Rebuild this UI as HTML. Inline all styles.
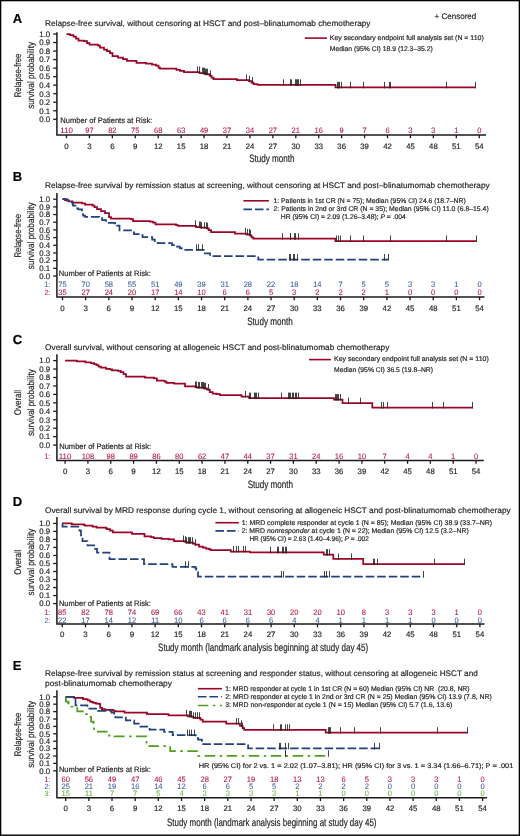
<!DOCTYPE html>
<html><head><meta charset="utf-8"><title>Figure</title>
<style>
html,body{margin:0;padding:0;background:#fff;}
body{width:520px;height:836px;overflow:hidden;}
svg{display:block;will-change:transform;}
svg text{font-family:"Liberation Sans", sans-serif;text-rendering:geometricPrecision;}
</style></head>
<body>
<svg width="520" height="836" viewBox="0 0 520 836">
<rect x="0" y="0" width="520" height="836" fill="#fff"/>
<text x="12.80" y="23.20" font-size="13" fill="#000" stroke="#000" stroke-width="0.18" font-weight="bold">A</text>
<text x="45.00" y="26.00" font-size="8.1" fill="#231f20" stroke="#231f20" stroke-width="0.18" textLength="325.50" lengthAdjust="spacingAndGlyphs">Relapse-free survival, without censoring at HSCT and post&#8211;blinatumomab chemotherapy</text>
<path d="M56.9 32.3 V135 H486" fill="none" stroke="#1a1a1a" stroke-width="1.5"/>
<line x1="53.2" y1="119.30" x2="56.9" y2="119.30" stroke="#1a1a1a" stroke-width="1.3"/>
<text x="50.20" y="122.10" font-size="8.0" fill="#231f20" stroke="#231f20" stroke-width="0.18" text-anchor="end" textLength="10.90" lengthAdjust="spacingAndGlyphs">0.0</text>
<line x1="53.2" y1="110.77" x2="56.9" y2="110.77" stroke="#1a1a1a" stroke-width="1.3"/>
<text x="50.20" y="113.57" font-size="8.0" fill="#231f20" stroke="#231f20" stroke-width="0.18" text-anchor="end" textLength="10.90" lengthAdjust="spacingAndGlyphs">0.1</text>
<line x1="53.2" y1="102.24" x2="56.9" y2="102.24" stroke="#1a1a1a" stroke-width="1.3"/>
<text x="50.20" y="105.04" font-size="8.0" fill="#231f20" stroke="#231f20" stroke-width="0.18" text-anchor="end" textLength="10.90" lengthAdjust="spacingAndGlyphs">0.2</text>
<line x1="53.2" y1="93.71" x2="56.9" y2="93.71" stroke="#1a1a1a" stroke-width="1.3"/>
<text x="50.20" y="96.51" font-size="8.0" fill="#231f20" stroke="#231f20" stroke-width="0.18" text-anchor="end" textLength="10.90" lengthAdjust="spacingAndGlyphs">0.3</text>
<line x1="53.2" y1="85.18" x2="56.9" y2="85.18" stroke="#1a1a1a" stroke-width="1.3"/>
<text x="50.20" y="87.98" font-size="8.0" fill="#231f20" stroke="#231f20" stroke-width="0.18" text-anchor="end" textLength="10.90" lengthAdjust="spacingAndGlyphs">0.4</text>
<line x1="53.2" y1="76.65" x2="56.9" y2="76.65" stroke="#1a1a1a" stroke-width="1.3"/>
<text x="50.20" y="79.45" font-size="8.0" fill="#231f20" stroke="#231f20" stroke-width="0.18" text-anchor="end" textLength="10.90" lengthAdjust="spacingAndGlyphs">0.5</text>
<line x1="53.2" y1="68.12" x2="56.9" y2="68.12" stroke="#1a1a1a" stroke-width="1.3"/>
<text x="50.20" y="70.92" font-size="8.0" fill="#231f20" stroke="#231f20" stroke-width="0.18" text-anchor="end" textLength="10.90" lengthAdjust="spacingAndGlyphs">0.6</text>
<line x1="53.2" y1="59.59" x2="56.9" y2="59.59" stroke="#1a1a1a" stroke-width="1.3"/>
<text x="50.20" y="62.39" font-size="8.0" fill="#231f20" stroke="#231f20" stroke-width="0.18" text-anchor="end" textLength="10.90" lengthAdjust="spacingAndGlyphs">0.7</text>
<line x1="53.2" y1="51.06" x2="56.9" y2="51.06" stroke="#1a1a1a" stroke-width="1.3"/>
<text x="50.20" y="53.86" font-size="8.0" fill="#231f20" stroke="#231f20" stroke-width="0.18" text-anchor="end" textLength="10.90" lengthAdjust="spacingAndGlyphs">0.8</text>
<line x1="53.2" y1="42.53" x2="56.9" y2="42.53" stroke="#1a1a1a" stroke-width="1.3"/>
<text x="50.20" y="45.33" font-size="8.0" fill="#231f20" stroke="#231f20" stroke-width="0.18" text-anchor="end" textLength="10.90" lengthAdjust="spacingAndGlyphs">0.9</text>
<line x1="53.2" y1="34.00" x2="56.9" y2="34.00" stroke="#1a1a1a" stroke-width="1.3"/>
<text x="50.20" y="36.80" font-size="8.0" fill="#231f20" stroke="#231f20" stroke-width="0.18" text-anchor="end" textLength="10.90" lengthAdjust="spacingAndGlyphs">1.0</text>
<line x1="66.50" y1="135" x2="66.50" y2="138.20" stroke="#1a1a1a" stroke-width="1.3"/>
<text x="66.50" y="148.80" font-size="7.9" fill="#231f20" stroke="#231f20" stroke-width="0.18" text-anchor="middle" textLength="4.40" lengthAdjust="spacingAndGlyphs">0</text>
<line x1="89.43" y1="135" x2="89.43" y2="138.20" stroke="#1a1a1a" stroke-width="1.3"/>
<text x="89.43" y="148.80" font-size="7.9" fill="#231f20" stroke="#231f20" stroke-width="0.18" text-anchor="middle" textLength="4.40" lengthAdjust="spacingAndGlyphs">3</text>
<line x1="112.36" y1="135" x2="112.36" y2="138.20" stroke="#1a1a1a" stroke-width="1.3"/>
<text x="112.36" y="148.80" font-size="7.9" fill="#231f20" stroke="#231f20" stroke-width="0.18" text-anchor="middle" textLength="4.40" lengthAdjust="spacingAndGlyphs">6</text>
<line x1="135.29" y1="135" x2="135.29" y2="138.20" stroke="#1a1a1a" stroke-width="1.3"/>
<text x="135.29" y="148.80" font-size="7.9" fill="#231f20" stroke="#231f20" stroke-width="0.18" text-anchor="middle" textLength="4.40" lengthAdjust="spacingAndGlyphs">9</text>
<line x1="158.22" y1="135" x2="158.22" y2="138.20" stroke="#1a1a1a" stroke-width="1.3"/>
<text x="158.22" y="148.80" font-size="7.9" fill="#231f20" stroke="#231f20" stroke-width="0.18" text-anchor="middle" textLength="8.60" lengthAdjust="spacingAndGlyphs">12</text>
<line x1="181.15" y1="135" x2="181.15" y2="138.20" stroke="#1a1a1a" stroke-width="1.3"/>
<text x="181.15" y="148.80" font-size="7.9" fill="#231f20" stroke="#231f20" stroke-width="0.18" text-anchor="middle" textLength="8.60" lengthAdjust="spacingAndGlyphs">15</text>
<line x1="204.08" y1="135" x2="204.08" y2="138.20" stroke="#1a1a1a" stroke-width="1.3"/>
<text x="204.08" y="148.80" font-size="7.9" fill="#231f20" stroke="#231f20" stroke-width="0.18" text-anchor="middle" textLength="8.60" lengthAdjust="spacingAndGlyphs">18</text>
<line x1="227.01" y1="135" x2="227.01" y2="138.20" stroke="#1a1a1a" stroke-width="1.3"/>
<text x="227.01" y="148.80" font-size="7.9" fill="#231f20" stroke="#231f20" stroke-width="0.18" text-anchor="middle" textLength="8.60" lengthAdjust="spacingAndGlyphs">21</text>
<line x1="249.94" y1="135" x2="249.94" y2="138.20" stroke="#1a1a1a" stroke-width="1.3"/>
<text x="249.94" y="148.80" font-size="7.9" fill="#231f20" stroke="#231f20" stroke-width="0.18" text-anchor="middle" textLength="8.60" lengthAdjust="spacingAndGlyphs">24</text>
<line x1="272.87" y1="135" x2="272.87" y2="138.20" stroke="#1a1a1a" stroke-width="1.3"/>
<text x="272.87" y="148.80" font-size="7.9" fill="#231f20" stroke="#231f20" stroke-width="0.18" text-anchor="middle" textLength="8.60" lengthAdjust="spacingAndGlyphs">27</text>
<line x1="295.80" y1="135" x2="295.80" y2="138.20" stroke="#1a1a1a" stroke-width="1.3"/>
<text x="295.80" y="148.80" font-size="7.9" fill="#231f20" stroke="#231f20" stroke-width="0.18" text-anchor="middle" textLength="8.60" lengthAdjust="spacingAndGlyphs">30</text>
<line x1="318.73" y1="135" x2="318.73" y2="138.20" stroke="#1a1a1a" stroke-width="1.3"/>
<text x="318.73" y="148.80" font-size="7.9" fill="#231f20" stroke="#231f20" stroke-width="0.18" text-anchor="middle" textLength="8.60" lengthAdjust="spacingAndGlyphs">33</text>
<line x1="341.66" y1="135" x2="341.66" y2="138.20" stroke="#1a1a1a" stroke-width="1.3"/>
<text x="341.66" y="148.80" font-size="7.9" fill="#231f20" stroke="#231f20" stroke-width="0.18" text-anchor="middle" textLength="8.60" lengthAdjust="spacingAndGlyphs">36</text>
<line x1="364.59" y1="135" x2="364.59" y2="138.20" stroke="#1a1a1a" stroke-width="1.3"/>
<text x="364.59" y="148.80" font-size="7.9" fill="#231f20" stroke="#231f20" stroke-width="0.18" text-anchor="middle" textLength="8.60" lengthAdjust="spacingAndGlyphs">39</text>
<line x1="387.52" y1="135" x2="387.52" y2="138.20" stroke="#1a1a1a" stroke-width="1.3"/>
<text x="387.52" y="148.80" font-size="7.9" fill="#231f20" stroke="#231f20" stroke-width="0.18" text-anchor="middle" textLength="8.60" lengthAdjust="spacingAndGlyphs">42</text>
<line x1="410.45" y1="135" x2="410.45" y2="138.20" stroke="#1a1a1a" stroke-width="1.3"/>
<text x="410.45" y="148.80" font-size="7.9" fill="#231f20" stroke="#231f20" stroke-width="0.18" text-anchor="middle" textLength="8.60" lengthAdjust="spacingAndGlyphs">45</text>
<line x1="433.38" y1="135" x2="433.38" y2="138.20" stroke="#1a1a1a" stroke-width="1.3"/>
<text x="433.38" y="148.80" font-size="7.9" fill="#231f20" stroke="#231f20" stroke-width="0.18" text-anchor="middle" textLength="8.60" lengthAdjust="spacingAndGlyphs">48</text>
<line x1="456.31" y1="135" x2="456.31" y2="138.20" stroke="#1a1a1a" stroke-width="1.3"/>
<text x="456.31" y="148.80" font-size="7.9" fill="#231f20" stroke="#231f20" stroke-width="0.18" text-anchor="middle" textLength="8.60" lengthAdjust="spacingAndGlyphs">51</text>
<line x1="479.24" y1="135" x2="479.24" y2="138.20" stroke="#1a1a1a" stroke-width="1.3"/>
<text x="479.24" y="148.80" font-size="7.9" fill="#231f20" stroke="#231f20" stroke-width="0.18" text-anchor="middle" textLength="8.60" lengthAdjust="spacingAndGlyphs">54</text>
<text x="60.30" y="122.60" font-size="7.8" fill="#231f20" stroke="#231f20" stroke-width="0.18" textLength="92.00" lengthAdjust="spacingAndGlyphs">Number of Patients at Risk:</text>
<text x="66.50" y="132.80" font-size="7.9" fill="#b3183f" stroke="#b3183f" stroke-width="0.08" text-anchor="middle" textLength="12.60" lengthAdjust="spacingAndGlyphs">110</text>
<text x="89.43" y="132.80" font-size="7.9" fill="#b3183f" stroke="#b3183f" stroke-width="0.08" text-anchor="middle" textLength="8.40" lengthAdjust="spacingAndGlyphs">97</text>
<text x="112.36" y="132.80" font-size="7.9" fill="#b3183f" stroke="#b3183f" stroke-width="0.08" text-anchor="middle" textLength="8.40" lengthAdjust="spacingAndGlyphs">82</text>
<text x="135.29" y="132.80" font-size="7.9" fill="#b3183f" stroke="#b3183f" stroke-width="0.08" text-anchor="middle" textLength="8.40" lengthAdjust="spacingAndGlyphs">75</text>
<text x="158.22" y="132.80" font-size="7.9" fill="#b3183f" stroke="#b3183f" stroke-width="0.08" text-anchor="middle" textLength="8.40" lengthAdjust="spacingAndGlyphs">68</text>
<text x="181.15" y="132.80" font-size="7.9" fill="#b3183f" stroke="#b3183f" stroke-width="0.08" text-anchor="middle" textLength="8.40" lengthAdjust="spacingAndGlyphs">63</text>
<text x="204.08" y="132.80" font-size="7.9" fill="#b3183f" stroke="#b3183f" stroke-width="0.08" text-anchor="middle" textLength="8.40" lengthAdjust="spacingAndGlyphs">49</text>
<text x="227.01" y="132.80" font-size="7.9" fill="#b3183f" stroke="#b3183f" stroke-width="0.08" text-anchor="middle" textLength="8.40" lengthAdjust="spacingAndGlyphs">37</text>
<text x="249.94" y="132.80" font-size="7.9" fill="#b3183f" stroke="#b3183f" stroke-width="0.08" text-anchor="middle" textLength="8.40" lengthAdjust="spacingAndGlyphs">34</text>
<text x="272.87" y="132.80" font-size="7.9" fill="#b3183f" stroke="#b3183f" stroke-width="0.08" text-anchor="middle" textLength="8.40" lengthAdjust="spacingAndGlyphs">27</text>
<text x="295.80" y="132.80" font-size="7.9" fill="#b3183f" stroke="#b3183f" stroke-width="0.08" text-anchor="middle" textLength="8.40" lengthAdjust="spacingAndGlyphs">21</text>
<text x="318.73" y="132.80" font-size="7.9" fill="#b3183f" stroke="#b3183f" stroke-width="0.08" text-anchor="middle" textLength="8.40" lengthAdjust="spacingAndGlyphs">16</text>
<text x="341.66" y="132.80" font-size="7.9" fill="#b3183f" stroke="#b3183f" stroke-width="0.08" text-anchor="middle" textLength="4.20" lengthAdjust="spacingAndGlyphs">9</text>
<text x="364.59" y="132.80" font-size="7.9" fill="#b3183f" stroke="#b3183f" stroke-width="0.08" text-anchor="middle" textLength="4.20" lengthAdjust="spacingAndGlyphs">7</text>
<text x="387.52" y="132.80" font-size="7.9" fill="#b3183f" stroke="#b3183f" stroke-width="0.08" text-anchor="middle" textLength="4.20" lengthAdjust="spacingAndGlyphs">6</text>
<text x="410.45" y="132.80" font-size="7.9" fill="#b3183f" stroke="#b3183f" stroke-width="0.08" text-anchor="middle" textLength="4.20" lengthAdjust="spacingAndGlyphs">3</text>
<text x="433.38" y="132.80" font-size="7.9" fill="#b3183f" stroke="#b3183f" stroke-width="0.08" text-anchor="middle" textLength="4.20" lengthAdjust="spacingAndGlyphs">3</text>
<text x="456.31" y="132.80" font-size="7.9" fill="#b3183f" stroke="#b3183f" stroke-width="0.08" text-anchor="middle" textLength="4.20" lengthAdjust="spacingAndGlyphs">1</text>
<text x="479.24" y="132.80" font-size="7.9" fill="#b3183f" stroke="#b3183f" stroke-width="0.08" text-anchor="middle" textLength="4.20" lengthAdjust="spacingAndGlyphs">0</text>
<text transform="translate(20.90,75.45) rotate(-90)" x="0" y="0" font-size="9.6" fill="#231f20" stroke="#231f20" stroke-width="0.18" text-anchor="middle" textLength="43.6" lengthAdjust="spacingAndGlyphs">Relapse-free</text>
<text transform="translate(33.60,75.45) rotate(-90)" x="0" y="0" font-size="9.6" fill="#231f20" stroke="#231f20" stroke-width="0.18" text-anchor="middle" textLength="66.8" lengthAdjust="spacingAndGlyphs">survival probability</text>
<text x="249.20" y="162.30" font-size="10.6" fill="#231f20" stroke="#231f20" stroke-width="0.18" textLength="45.40" lengthAdjust="spacingAndGlyphs">Study month</text>
<line x1="304.8" y1="38.1" x2="326.9" y2="38.1" stroke="#9c0626" stroke-width="1.6"/>
<text x="329.80" y="40.10" font-size="6.8" fill="#231f20" stroke="#231f20" stroke-width="0.18" textLength="153.90" lengthAdjust="spacingAndGlyphs">Key secondary endpoint full analysis set (N = 110)</text>
<text x="329.80" y="50.60" font-size="6.8" fill="#231f20" stroke="#231f20" stroke-width="0.18" textLength="102.90" lengthAdjust="spacingAndGlyphs">Median (95% CI) 18.9 (12.3&#8211;35.2)</text>
<path d="M66.50 34.00H70.00V35.00H73.50V36.50H76.00V38.50H78.50V40.50H84.00V41.20H87.00V43.00H89.50V44.50H98.00V45.50H100.00V47.50H104.00V49.50H107.00V51.00H110.00V53.00H112.50V56.00H118.00V57.50H123.00V59.00H127.00V60.80H136.50V62.80H146.00V63.60H152.00V64.50H156.00V65.50H158.50V67.50H160.00V68.60H176.50V69.80H180.00V70.80H184.00V72.00H199.50V73.20H205.00V74.20H209.50V75.70H211.50V77.50H213.50V79.00H237.00V80.00H249.00V81.20H251.50V82.50H253.50V84.00H257.50V84.80H335.50V87.40H475.50" fill="none" stroke="#9c0626" stroke-width="1.75"/>
<line x1="197.50" y1="66.50" x2="197.50" y2="73.00" stroke="#222" stroke-width="0.85"/>
<line x1="199.50" y1="66.50" x2="199.50" y2="73.00" stroke="#222" stroke-width="0.85"/>
<line x1="202.50" y1="67.70" x2="202.50" y2="74.20" stroke="#222" stroke-width="0.85"/>
<line x1="203.50" y1="67.70" x2="203.50" y2="74.20" stroke="#222" stroke-width="0.85"/>
<line x1="204.50" y1="67.70" x2="204.50" y2="74.20" stroke="#222" stroke-width="0.85"/>
<line x1="205.50" y1="68.70" x2="205.50" y2="75.20" stroke="#222" stroke-width="0.85"/>
<line x1="206.50" y1="68.70" x2="206.50" y2="75.20" stroke="#222" stroke-width="0.85"/>
<line x1="207.50" y1="68.70" x2="207.50" y2="75.20" stroke="#222" stroke-width="0.85"/>
<line x1="210.50" y1="70.20" x2="210.50" y2="76.70" stroke="#222" stroke-width="0.85"/>
<line x1="246.50" y1="74.50" x2="246.50" y2="81.00" stroke="#222" stroke-width="0.85"/>
<line x1="249.50" y1="75.70" x2="249.50" y2="82.20" stroke="#222" stroke-width="0.85"/>
<line x1="252.50" y1="77.00" x2="252.50" y2="83.50" stroke="#222" stroke-width="0.85"/>
<line x1="283.50" y1="79.30" x2="283.50" y2="85.80" stroke="#222" stroke-width="0.85"/>
<line x1="290.50" y1="79.30" x2="290.50" y2="85.80" stroke="#222" stroke-width="0.85"/>
<line x1="291.50" y1="79.30" x2="291.50" y2="85.80" stroke="#222" stroke-width="0.85"/>
<line x1="295.50" y1="79.30" x2="295.50" y2="85.80" stroke="#222" stroke-width="0.85"/>
<line x1="296.50" y1="79.30" x2="296.50" y2="85.80" stroke="#222" stroke-width="0.85"/>
<line x1="297.50" y1="79.30" x2="297.50" y2="85.80" stroke="#222" stroke-width="0.85"/>
<line x1="298.50" y1="79.30" x2="298.50" y2="85.80" stroke="#222" stroke-width="0.85"/>
<line x1="300.50" y1="79.30" x2="300.50" y2="85.80" stroke="#222" stroke-width="0.85"/>
<line x1="337.50" y1="81.90" x2="337.50" y2="88.40" stroke="#222" stroke-width="0.85"/>
<line x1="338.50" y1="81.90" x2="338.50" y2="88.40" stroke="#222" stroke-width="0.85"/>
<line x1="339.50" y1="81.90" x2="339.50" y2="88.40" stroke="#222" stroke-width="0.85"/>
<line x1="341.50" y1="81.90" x2="341.50" y2="88.40" stroke="#222" stroke-width="0.85"/>
<line x1="350.50" y1="81.90" x2="350.50" y2="88.40" stroke="#222" stroke-width="0.85"/>
<line x1="363.50" y1="81.90" x2="363.50" y2="88.40" stroke="#222" stroke-width="0.85"/>
<line x1="384.50" y1="81.90" x2="384.50" y2="88.40" stroke="#222" stroke-width="0.85"/>
<line x1="389.50" y1="81.90" x2="389.50" y2="88.40" stroke="#222" stroke-width="0.85"/>
<line x1="390.50" y1="81.90" x2="390.50" y2="88.40" stroke="#222" stroke-width="0.85"/>
<line x1="446.50" y1="81.90" x2="446.50" y2="88.40" stroke="#222" stroke-width="0.85"/>
<line x1="475.50" y1="81.90" x2="475.50" y2="88.40" stroke="#222" stroke-width="0.85"/>
<text x="12.80" y="180.80" font-size="13" fill="#000" stroke="#000" stroke-width="0.18" font-weight="bold">B</text>
<text x="45.00" y="187.60" font-size="8.1" fill="#231f20" stroke="#231f20" stroke-width="0.18" textLength="444.60" lengthAdjust="spacingAndGlyphs">Relapse-free survival by remission status at screening, without censoring at HSCT and post&#8211;blinatumomab chemotherapy</text>
<path d="M56.9 193 V297 H484.5" fill="none" stroke="#1a1a1a" stroke-width="1.5"/>
<line x1="53.2" y1="276.00" x2="56.9" y2="276.00" stroke="#1a1a1a" stroke-width="1.3"/>
<text x="50.20" y="278.80" font-size="8.0" fill="#231f20" stroke="#231f20" stroke-width="0.18" text-anchor="end" textLength="10.90" lengthAdjust="spacingAndGlyphs">0.0</text>
<line x1="53.2" y1="268.32" x2="56.9" y2="268.32" stroke="#1a1a1a" stroke-width="1.3"/>
<text x="50.20" y="271.12" font-size="8.0" fill="#231f20" stroke="#231f20" stroke-width="0.18" text-anchor="end" textLength="10.90" lengthAdjust="spacingAndGlyphs">0.1</text>
<line x1="53.2" y1="260.64" x2="56.9" y2="260.64" stroke="#1a1a1a" stroke-width="1.3"/>
<text x="50.20" y="263.44" font-size="8.0" fill="#231f20" stroke="#231f20" stroke-width="0.18" text-anchor="end" textLength="10.90" lengthAdjust="spacingAndGlyphs">0.2</text>
<line x1="53.2" y1="252.96" x2="56.9" y2="252.96" stroke="#1a1a1a" stroke-width="1.3"/>
<text x="50.20" y="255.76" font-size="8.0" fill="#231f20" stroke="#231f20" stroke-width="0.18" text-anchor="end" textLength="10.90" lengthAdjust="spacingAndGlyphs">0.3</text>
<line x1="53.2" y1="245.28" x2="56.9" y2="245.28" stroke="#1a1a1a" stroke-width="1.3"/>
<text x="50.20" y="248.08" font-size="8.0" fill="#231f20" stroke="#231f20" stroke-width="0.18" text-anchor="end" textLength="10.90" lengthAdjust="spacingAndGlyphs">0.4</text>
<line x1="53.2" y1="237.60" x2="56.9" y2="237.60" stroke="#1a1a1a" stroke-width="1.3"/>
<text x="50.20" y="240.40" font-size="8.0" fill="#231f20" stroke="#231f20" stroke-width="0.18" text-anchor="end" textLength="10.90" lengthAdjust="spacingAndGlyphs">0.5</text>
<line x1="53.2" y1="229.92" x2="56.9" y2="229.92" stroke="#1a1a1a" stroke-width="1.3"/>
<text x="50.20" y="232.72" font-size="8.0" fill="#231f20" stroke="#231f20" stroke-width="0.18" text-anchor="end" textLength="10.90" lengthAdjust="spacingAndGlyphs">0.6</text>
<line x1="53.2" y1="222.24" x2="56.9" y2="222.24" stroke="#1a1a1a" stroke-width="1.3"/>
<text x="50.20" y="225.04" font-size="8.0" fill="#231f20" stroke="#231f20" stroke-width="0.18" text-anchor="end" textLength="10.90" lengthAdjust="spacingAndGlyphs">0.7</text>
<line x1="53.2" y1="214.56" x2="56.9" y2="214.56" stroke="#1a1a1a" stroke-width="1.3"/>
<text x="50.20" y="217.36" font-size="8.0" fill="#231f20" stroke="#231f20" stroke-width="0.18" text-anchor="end" textLength="10.90" lengthAdjust="spacingAndGlyphs">0.8</text>
<line x1="53.2" y1="206.88" x2="56.9" y2="206.88" stroke="#1a1a1a" stroke-width="1.3"/>
<text x="50.20" y="209.68" font-size="8.0" fill="#231f20" stroke="#231f20" stroke-width="0.18" text-anchor="end" textLength="10.90" lengthAdjust="spacingAndGlyphs">0.9</text>
<line x1="53.2" y1="199.20" x2="56.9" y2="199.20" stroke="#1a1a1a" stroke-width="1.3"/>
<text x="50.20" y="202.00" font-size="8.0" fill="#231f20" stroke="#231f20" stroke-width="0.18" text-anchor="end" textLength="10.90" lengthAdjust="spacingAndGlyphs">1.0</text>
<line x1="62.50" y1="297" x2="62.50" y2="300.20" stroke="#1a1a1a" stroke-width="1.3"/>
<text x="62.50" y="310.70" font-size="7.9" fill="#231f20" stroke="#231f20" stroke-width="0.18" text-anchor="middle" textLength="4.40" lengthAdjust="spacingAndGlyphs">0</text>
<line x1="85.67" y1="297" x2="85.67" y2="300.20" stroke="#1a1a1a" stroke-width="1.3"/>
<text x="85.67" y="310.70" font-size="7.9" fill="#231f20" stroke="#231f20" stroke-width="0.18" text-anchor="middle" textLength="4.40" lengthAdjust="spacingAndGlyphs">3</text>
<line x1="108.84" y1="297" x2="108.84" y2="300.20" stroke="#1a1a1a" stroke-width="1.3"/>
<text x="108.84" y="310.70" font-size="7.9" fill="#231f20" stroke="#231f20" stroke-width="0.18" text-anchor="middle" textLength="4.40" lengthAdjust="spacingAndGlyphs">6</text>
<line x1="132.01" y1="297" x2="132.01" y2="300.20" stroke="#1a1a1a" stroke-width="1.3"/>
<text x="132.01" y="310.70" font-size="7.9" fill="#231f20" stroke="#231f20" stroke-width="0.18" text-anchor="middle" textLength="4.40" lengthAdjust="spacingAndGlyphs">9</text>
<line x1="155.18" y1="297" x2="155.18" y2="300.20" stroke="#1a1a1a" stroke-width="1.3"/>
<text x="155.18" y="310.70" font-size="7.9" fill="#231f20" stroke="#231f20" stroke-width="0.18" text-anchor="middle" textLength="8.60" lengthAdjust="spacingAndGlyphs">12</text>
<line x1="178.35" y1="297" x2="178.35" y2="300.20" stroke="#1a1a1a" stroke-width="1.3"/>
<text x="178.35" y="310.70" font-size="7.9" fill="#231f20" stroke="#231f20" stroke-width="0.18" text-anchor="middle" textLength="8.60" lengthAdjust="spacingAndGlyphs">15</text>
<line x1="201.52" y1="297" x2="201.52" y2="300.20" stroke="#1a1a1a" stroke-width="1.3"/>
<text x="201.52" y="310.70" font-size="7.9" fill="#231f20" stroke="#231f20" stroke-width="0.18" text-anchor="middle" textLength="8.60" lengthAdjust="spacingAndGlyphs">18</text>
<line x1="224.69" y1="297" x2="224.69" y2="300.20" stroke="#1a1a1a" stroke-width="1.3"/>
<text x="224.69" y="310.70" font-size="7.9" fill="#231f20" stroke="#231f20" stroke-width="0.18" text-anchor="middle" textLength="8.60" lengthAdjust="spacingAndGlyphs">21</text>
<line x1="247.86" y1="297" x2="247.86" y2="300.20" stroke="#1a1a1a" stroke-width="1.3"/>
<text x="247.86" y="310.70" font-size="7.9" fill="#231f20" stroke="#231f20" stroke-width="0.18" text-anchor="middle" textLength="8.60" lengthAdjust="spacingAndGlyphs">24</text>
<line x1="271.03" y1="297" x2="271.03" y2="300.20" stroke="#1a1a1a" stroke-width="1.3"/>
<text x="271.03" y="310.70" font-size="7.9" fill="#231f20" stroke="#231f20" stroke-width="0.18" text-anchor="middle" textLength="8.60" lengthAdjust="spacingAndGlyphs">27</text>
<line x1="294.20" y1="297" x2="294.20" y2="300.20" stroke="#1a1a1a" stroke-width="1.3"/>
<text x="294.20" y="310.70" font-size="7.9" fill="#231f20" stroke="#231f20" stroke-width="0.18" text-anchor="middle" textLength="8.60" lengthAdjust="spacingAndGlyphs">30</text>
<line x1="317.37" y1="297" x2="317.37" y2="300.20" stroke="#1a1a1a" stroke-width="1.3"/>
<text x="317.37" y="310.70" font-size="7.9" fill="#231f20" stroke="#231f20" stroke-width="0.18" text-anchor="middle" textLength="8.60" lengthAdjust="spacingAndGlyphs">33</text>
<line x1="340.54" y1="297" x2="340.54" y2="300.20" stroke="#1a1a1a" stroke-width="1.3"/>
<text x="340.54" y="310.70" font-size="7.9" fill="#231f20" stroke="#231f20" stroke-width="0.18" text-anchor="middle" textLength="8.60" lengthAdjust="spacingAndGlyphs">36</text>
<line x1="363.71" y1="297" x2="363.71" y2="300.20" stroke="#1a1a1a" stroke-width="1.3"/>
<text x="363.71" y="310.70" font-size="7.9" fill="#231f20" stroke="#231f20" stroke-width="0.18" text-anchor="middle" textLength="8.60" lengthAdjust="spacingAndGlyphs">39</text>
<line x1="386.88" y1="297" x2="386.88" y2="300.20" stroke="#1a1a1a" stroke-width="1.3"/>
<text x="386.88" y="310.70" font-size="7.9" fill="#231f20" stroke="#231f20" stroke-width="0.18" text-anchor="middle" textLength="8.60" lengthAdjust="spacingAndGlyphs">42</text>
<line x1="410.05" y1="297" x2="410.05" y2="300.20" stroke="#1a1a1a" stroke-width="1.3"/>
<text x="410.05" y="310.70" font-size="7.9" fill="#231f20" stroke="#231f20" stroke-width="0.18" text-anchor="middle" textLength="8.60" lengthAdjust="spacingAndGlyphs">45</text>
<line x1="433.22" y1="297" x2="433.22" y2="300.20" stroke="#1a1a1a" stroke-width="1.3"/>
<text x="433.22" y="310.70" font-size="7.9" fill="#231f20" stroke="#231f20" stroke-width="0.18" text-anchor="middle" textLength="8.60" lengthAdjust="spacingAndGlyphs">48</text>
<line x1="456.39" y1="297" x2="456.39" y2="300.20" stroke="#1a1a1a" stroke-width="1.3"/>
<text x="456.39" y="310.70" font-size="7.9" fill="#231f20" stroke="#231f20" stroke-width="0.18" text-anchor="middle" textLength="8.60" lengthAdjust="spacingAndGlyphs">51</text>
<line x1="479.56" y1="297" x2="479.56" y2="300.20" stroke="#1a1a1a" stroke-width="1.3"/>
<text x="479.56" y="310.70" font-size="7.9" fill="#231f20" stroke="#231f20" stroke-width="0.18" text-anchor="middle" textLength="8.60" lengthAdjust="spacingAndGlyphs">54</text>
<text x="58.80" y="276.30" font-size="7.8" fill="#231f20" stroke="#231f20" stroke-width="0.18" textLength="92.00" lengthAdjust="spacingAndGlyphs">Number of Patients at Risk:</text>
<text x="50.20" y="286.70" font-size="7.5" fill="#3f5f9e" stroke="#3f5f9e" stroke-width="0.08" text-anchor="end" textLength="5.80" lengthAdjust="spacingAndGlyphs">1:</text>
<text x="62.50" y="286.70" font-size="7.9" fill="#3f5f9e" stroke="#3f5f9e" stroke-width="0.08" text-anchor="middle" textLength="8.40" lengthAdjust="spacingAndGlyphs">75</text>
<text x="85.67" y="286.70" font-size="7.9" fill="#3f5f9e" stroke="#3f5f9e" stroke-width="0.08" text-anchor="middle" textLength="8.40" lengthAdjust="spacingAndGlyphs">70</text>
<text x="108.84" y="286.70" font-size="7.9" fill="#3f5f9e" stroke="#3f5f9e" stroke-width="0.08" text-anchor="middle" textLength="8.40" lengthAdjust="spacingAndGlyphs">58</text>
<text x="132.01" y="286.70" font-size="7.9" fill="#3f5f9e" stroke="#3f5f9e" stroke-width="0.08" text-anchor="middle" textLength="8.40" lengthAdjust="spacingAndGlyphs">55</text>
<text x="155.18" y="286.70" font-size="7.9" fill="#3f5f9e" stroke="#3f5f9e" stroke-width="0.08" text-anchor="middle" textLength="8.40" lengthAdjust="spacingAndGlyphs">51</text>
<text x="178.35" y="286.70" font-size="7.9" fill="#3f5f9e" stroke="#3f5f9e" stroke-width="0.08" text-anchor="middle" textLength="8.40" lengthAdjust="spacingAndGlyphs">49</text>
<text x="201.52" y="286.70" font-size="7.9" fill="#3f5f9e" stroke="#3f5f9e" stroke-width="0.08" text-anchor="middle" textLength="8.40" lengthAdjust="spacingAndGlyphs">39</text>
<text x="224.69" y="286.70" font-size="7.9" fill="#3f5f9e" stroke="#3f5f9e" stroke-width="0.08" text-anchor="middle" textLength="8.40" lengthAdjust="spacingAndGlyphs">31</text>
<text x="247.86" y="286.70" font-size="7.9" fill="#3f5f9e" stroke="#3f5f9e" stroke-width="0.08" text-anchor="middle" textLength="8.40" lengthAdjust="spacingAndGlyphs">28</text>
<text x="271.03" y="286.70" font-size="7.9" fill="#3f5f9e" stroke="#3f5f9e" stroke-width="0.08" text-anchor="middle" textLength="8.40" lengthAdjust="spacingAndGlyphs">22</text>
<text x="294.20" y="286.70" font-size="7.9" fill="#3f5f9e" stroke="#3f5f9e" stroke-width="0.08" text-anchor="middle" textLength="8.40" lengthAdjust="spacingAndGlyphs">18</text>
<text x="317.37" y="286.70" font-size="7.9" fill="#3f5f9e" stroke="#3f5f9e" stroke-width="0.08" text-anchor="middle" textLength="8.40" lengthAdjust="spacingAndGlyphs">14</text>
<text x="340.54" y="286.70" font-size="7.9" fill="#3f5f9e" stroke="#3f5f9e" stroke-width="0.08" text-anchor="middle" textLength="4.20" lengthAdjust="spacingAndGlyphs">7</text>
<text x="363.71" y="286.70" font-size="7.9" fill="#3f5f9e" stroke="#3f5f9e" stroke-width="0.08" text-anchor="middle" textLength="4.20" lengthAdjust="spacingAndGlyphs">5</text>
<text x="386.88" y="286.70" font-size="7.9" fill="#3f5f9e" stroke="#3f5f9e" stroke-width="0.08" text-anchor="middle" textLength="4.20" lengthAdjust="spacingAndGlyphs">5</text>
<text x="410.05" y="286.70" font-size="7.9" fill="#3f5f9e" stroke="#3f5f9e" stroke-width="0.08" text-anchor="middle" textLength="4.20" lengthAdjust="spacingAndGlyphs">3</text>
<text x="433.22" y="286.70" font-size="7.9" fill="#3f5f9e" stroke="#3f5f9e" stroke-width="0.08" text-anchor="middle" textLength="4.20" lengthAdjust="spacingAndGlyphs">3</text>
<text x="456.39" y="286.70" font-size="7.9" fill="#3f5f9e" stroke="#3f5f9e" stroke-width="0.08" text-anchor="middle" textLength="4.20" lengthAdjust="spacingAndGlyphs">1</text>
<text x="479.56" y="286.70" font-size="7.9" fill="#3f5f9e" stroke="#3f5f9e" stroke-width="0.08" text-anchor="middle" textLength="4.20" lengthAdjust="spacingAndGlyphs">0</text>
<text x="50.20" y="295.00" font-size="7.5" fill="#b3183f" stroke="#b3183f" stroke-width="0.08" text-anchor="end" textLength="5.80" lengthAdjust="spacingAndGlyphs">2:</text>
<text x="62.50" y="295.00" font-size="7.9" fill="#b3183f" stroke="#b3183f" stroke-width="0.08" text-anchor="middle" textLength="8.40" lengthAdjust="spacingAndGlyphs">35</text>
<text x="85.67" y="295.00" font-size="7.9" fill="#b3183f" stroke="#b3183f" stroke-width="0.08" text-anchor="middle" textLength="8.40" lengthAdjust="spacingAndGlyphs">27</text>
<text x="108.84" y="295.00" font-size="7.9" fill="#b3183f" stroke="#b3183f" stroke-width="0.08" text-anchor="middle" textLength="8.40" lengthAdjust="spacingAndGlyphs">24</text>
<text x="132.01" y="295.00" font-size="7.9" fill="#b3183f" stroke="#b3183f" stroke-width="0.08" text-anchor="middle" textLength="8.40" lengthAdjust="spacingAndGlyphs">20</text>
<text x="155.18" y="295.00" font-size="7.9" fill="#b3183f" stroke="#b3183f" stroke-width="0.08" text-anchor="middle" textLength="8.40" lengthAdjust="spacingAndGlyphs">17</text>
<text x="178.35" y="295.00" font-size="7.9" fill="#b3183f" stroke="#b3183f" stroke-width="0.08" text-anchor="middle" textLength="8.40" lengthAdjust="spacingAndGlyphs">14</text>
<text x="201.52" y="295.00" font-size="7.9" fill="#b3183f" stroke="#b3183f" stroke-width="0.08" text-anchor="middle" textLength="8.40" lengthAdjust="spacingAndGlyphs">10</text>
<text x="224.69" y="295.00" font-size="7.9" fill="#b3183f" stroke="#b3183f" stroke-width="0.08" text-anchor="middle" textLength="4.20" lengthAdjust="spacingAndGlyphs">6</text>
<text x="247.86" y="295.00" font-size="7.9" fill="#b3183f" stroke="#b3183f" stroke-width="0.08" text-anchor="middle" textLength="4.20" lengthAdjust="spacingAndGlyphs">6</text>
<text x="271.03" y="295.00" font-size="7.9" fill="#b3183f" stroke="#b3183f" stroke-width="0.08" text-anchor="middle" textLength="4.20" lengthAdjust="spacingAndGlyphs">5</text>
<text x="294.20" y="295.00" font-size="7.9" fill="#b3183f" stroke="#b3183f" stroke-width="0.08" text-anchor="middle" textLength="4.20" lengthAdjust="spacingAndGlyphs">3</text>
<text x="317.37" y="295.00" font-size="7.9" fill="#b3183f" stroke="#b3183f" stroke-width="0.08" text-anchor="middle" textLength="4.20" lengthAdjust="spacingAndGlyphs">2</text>
<text x="340.54" y="295.00" font-size="7.9" fill="#b3183f" stroke="#b3183f" stroke-width="0.08" text-anchor="middle" textLength="4.20" lengthAdjust="spacingAndGlyphs">2</text>
<text x="363.71" y="295.00" font-size="7.9" fill="#b3183f" stroke="#b3183f" stroke-width="0.08" text-anchor="middle" textLength="4.20" lengthAdjust="spacingAndGlyphs">2</text>
<text x="386.88" y="295.00" font-size="7.9" fill="#b3183f" stroke="#b3183f" stroke-width="0.08" text-anchor="middle" textLength="4.20" lengthAdjust="spacingAndGlyphs">1</text>
<text x="410.05" y="295.00" font-size="7.9" fill="#b3183f" stroke="#b3183f" stroke-width="0.08" text-anchor="middle" textLength="4.20" lengthAdjust="spacingAndGlyphs">0</text>
<text x="433.22" y="295.00" font-size="7.9" fill="#b3183f" stroke="#b3183f" stroke-width="0.08" text-anchor="middle" textLength="4.20" lengthAdjust="spacingAndGlyphs">0</text>
<text x="456.39" y="295.00" font-size="7.9" fill="#b3183f" stroke="#b3183f" stroke-width="0.08" text-anchor="middle" textLength="4.20" lengthAdjust="spacingAndGlyphs">0</text>
<text x="479.56" y="295.00" font-size="7.9" fill="#b3183f" stroke="#b3183f" stroke-width="0.08" text-anchor="middle" textLength="4.20" lengthAdjust="spacingAndGlyphs">0</text>
<text transform="translate(21.10,235.75) rotate(-90)" x="0" y="0" font-size="9.6" fill="#231f20" stroke="#231f20" stroke-width="0.18" text-anchor="middle" textLength="43.6" lengthAdjust="spacingAndGlyphs">Relapse-free</text>
<text transform="translate(33.80,235.75) rotate(-90)" x="0" y="0" font-size="9.6" fill="#231f20" stroke="#231f20" stroke-width="0.18" text-anchor="middle" textLength="66.8" lengthAdjust="spacingAndGlyphs">survival probability</text>
<text x="247.20" y="324.70" font-size="10.6" fill="#231f20" stroke="#231f20" stroke-width="0.18" textLength="45.60" lengthAdjust="spacingAndGlyphs">Study month</text>
<line x1="243.4" y1="200.8" x2="268.9" y2="200.8" stroke="#9c0626" stroke-width="1.6"/>
<line x1="243.4" y1="209.4" x2="268.9" y2="209.4" stroke="#22417f" stroke-width="1.6" stroke-dasharray="8.6 2.9"/>
<text x="273.50" y="202.50" font-size="6.8" fill="#231f20" stroke="#231f20" stroke-width="0.18" textLength="192.20" lengthAdjust="spacingAndGlyphs">1: Patients in 1st CR (N = 75); Median (95% CI) 24.6 (18.7&#8211;NR)</text>
<text x="273.50" y="210.90" font-size="6.8" fill="#231f20" stroke="#231f20" stroke-width="0.18" textLength="215.20" lengthAdjust="spacingAndGlyphs">2: Patients in 2nd or 3rd CR (N = 35); Median (95% CI) 11.0 (6.8&#8211;15.4)</text>
<text x="280.80" y="219.40" font-size="6.8" fill="#231f20" stroke="#231f20" stroke-width="0.18" textLength="125.10" lengthAdjust="spacingAndGlyphs">HR (95% CI) = 2.09 (1.26&#8211;3.48); <tspan font-style="italic">P</tspan> = .004</text>
<path d="M62.50 199.20H65.00V200.20H68.50V201.30H72.50V202.70H82.00V203.30H85.00V204.60H92.60V205.50H94.50V207.00H97.00V209.00H101.00V211.00H105.00V213.20H109.00V217.00H111.00V218.70H131.00V219.20H133.00V221.00H150.00V221.50H153.00V222.60H155.50V224.40H176.00V225.00H178.00V225.80H196.00V227.00H201.00V227.70H206.70V228.30H208.70V230.20H211.00V232.10H235.00V233.50H246.00V234.40H249.60V235.40H251.50V237.30H253.30V238.70H335.40V241.00H476.20" fill="none" stroke="#9c0626" stroke-width="1.75"/>
<line x1="195.50" y1="220.30" x2="195.50" y2="226.80" stroke="#222" stroke-width="0.85"/>
<line x1="199.50" y1="221.50" x2="199.50" y2="228.00" stroke="#222" stroke-width="0.85"/>
<line x1="200.50" y1="221.50" x2="200.50" y2="228.00" stroke="#222" stroke-width="0.85"/>
<line x1="201.50" y1="222.20" x2="201.50" y2="228.70" stroke="#222" stroke-width="0.85"/>
<line x1="204.50" y1="222.20" x2="204.50" y2="228.70" stroke="#222" stroke-width="0.85"/>
<line x1="206.50" y1="222.20" x2="206.50" y2="228.70" stroke="#222" stroke-width="0.85"/>
<line x1="207.50" y1="222.80" x2="207.50" y2="229.30" stroke="#222" stroke-width="0.85"/>
<line x1="245.50" y1="228.00" x2="245.50" y2="234.50" stroke="#222" stroke-width="0.85"/>
<line x1="247.50" y1="228.90" x2="247.50" y2="235.40" stroke="#222" stroke-width="0.85"/>
<line x1="249.50" y1="228.90" x2="249.50" y2="235.40" stroke="#222" stroke-width="0.85"/>
<line x1="250.50" y1="229.90" x2="250.50" y2="236.40" stroke="#222" stroke-width="0.85"/>
<line x1="282.50" y1="233.20" x2="282.50" y2="239.70" stroke="#222" stroke-width="0.85"/>
<line x1="290.50" y1="233.20" x2="290.50" y2="239.70" stroke="#222" stroke-width="0.85"/>
<line x1="290.50" y1="233.20" x2="290.50" y2="239.70" stroke="#222" stroke-width="0.85"/>
<line x1="294.50" y1="233.20" x2="294.50" y2="239.70" stroke="#222" stroke-width="0.85"/>
<line x1="295.50" y1="233.20" x2="295.50" y2="239.70" stroke="#222" stroke-width="0.85"/>
<line x1="298.50" y1="233.20" x2="298.50" y2="239.70" stroke="#222" stroke-width="0.85"/>
<line x1="336.50" y1="235.50" x2="336.50" y2="242.00" stroke="#222" stroke-width="0.85"/>
<line x1="338.50" y1="235.50" x2="338.50" y2="242.00" stroke="#222" stroke-width="0.85"/>
<line x1="340.50" y1="235.50" x2="340.50" y2="242.00" stroke="#222" stroke-width="0.85"/>
<line x1="350.50" y1="235.50" x2="350.50" y2="242.00" stroke="#222" stroke-width="0.85"/>
<line x1="363.50" y1="235.50" x2="363.50" y2="242.00" stroke="#222" stroke-width="0.85"/>
<line x1="390.50" y1="235.50" x2="390.50" y2="242.00" stroke="#222" stroke-width="0.85"/>
<line x1="446.50" y1="235.50" x2="446.50" y2="242.00" stroke="#222" stroke-width="0.85"/>
<line x1="476.50" y1="235.50" x2="476.50" y2="242.00" stroke="#222" stroke-width="0.85"/>
<path d="M62.50 199.20H67.00V200.70H70.00V202.00H72.40V203.60H73.00V205.50H76.30V208.40H78.20V209.40H82.00V211.30H83.00V215.50H85.00V216.80H99.30V218.00H102.20V220.00H106.00V222.80H114.70V223.30H116.70V225.70H119.50V230.40H131.00V232.30H134.00V234.20H140.70V235.20H142.60V237.20H152.20V239.60H154.80V241.20H157.70V243.00H172.00V245.00H177.00V246.50H179.80V248.00H181.70V249.80H203.80V251.30H204.80V253.30H210.00V256.20H258.30V259.50H388.50" fill="none" stroke="#22417f" stroke-width="1.75" stroke-dasharray="8.6 2.9"/>
<line x1="196.50" y1="244.30" x2="196.50" y2="250.80" stroke="#222" stroke-width="0.85"/>
<line x1="198.50" y1="244.30" x2="198.50" y2="250.80" stroke="#222" stroke-width="0.85"/>
<line x1="202.50" y1="244.30" x2="202.50" y2="250.80" stroke="#222" stroke-width="0.85"/>
<line x1="289.50" y1="254.00" x2="289.50" y2="260.50" stroke="#222" stroke-width="0.85"/>
<line x1="290.50" y1="254.00" x2="290.50" y2="260.50" stroke="#222" stroke-width="0.85"/>
<line x1="293.50" y1="254.00" x2="293.50" y2="260.50" stroke="#222" stroke-width="0.85"/>
<line x1="294.50" y1="254.00" x2="294.50" y2="260.50" stroke="#222" stroke-width="0.85"/>
<line x1="297.50" y1="254.00" x2="297.50" y2="260.50" stroke="#222" stroke-width="0.85"/>
<line x1="384.50" y1="254.00" x2="384.50" y2="260.50" stroke="#222" stroke-width="0.85"/>
<line x1="388.50" y1="254.00" x2="388.50" y2="260.50" stroke="#222" stroke-width="0.85"/>
<text x="12.80" y="343.60" font-size="13" fill="#000" stroke="#000" stroke-width="0.18" font-weight="bold">C</text>
<text x="45.00" y="349.50" font-size="8.1" fill="#231f20" stroke="#231f20" stroke-width="0.18" textLength="344.40" lengthAdjust="spacingAndGlyphs">Overall survival, without censoring at allogeneic HSCT and post-blinatumomab chemotherapy</text>
<path d="M56.9 354.3 V460.6 H483.75" fill="none" stroke="#1a1a1a" stroke-width="1.5"/>
<line x1="53.2" y1="445.10" x2="56.9" y2="445.10" stroke="#1a1a1a" stroke-width="1.3"/>
<text x="50.20" y="447.90" font-size="8.0" fill="#231f20" stroke="#231f20" stroke-width="0.18" text-anchor="end" textLength="10.90" lengthAdjust="spacingAndGlyphs">0.0</text>
<line x1="53.2" y1="436.65" x2="56.9" y2="436.65" stroke="#1a1a1a" stroke-width="1.3"/>
<text x="50.20" y="439.45" font-size="8.0" fill="#231f20" stroke="#231f20" stroke-width="0.18" text-anchor="end" textLength="10.90" lengthAdjust="spacingAndGlyphs">0.1</text>
<line x1="53.2" y1="428.20" x2="56.9" y2="428.20" stroke="#1a1a1a" stroke-width="1.3"/>
<text x="50.20" y="431.00" font-size="8.0" fill="#231f20" stroke="#231f20" stroke-width="0.18" text-anchor="end" textLength="10.90" lengthAdjust="spacingAndGlyphs">0.2</text>
<line x1="53.2" y1="419.75" x2="56.9" y2="419.75" stroke="#1a1a1a" stroke-width="1.3"/>
<text x="50.20" y="422.55" font-size="8.0" fill="#231f20" stroke="#231f20" stroke-width="0.18" text-anchor="end" textLength="10.90" lengthAdjust="spacingAndGlyphs">0.3</text>
<line x1="53.2" y1="411.30" x2="56.9" y2="411.30" stroke="#1a1a1a" stroke-width="1.3"/>
<text x="50.20" y="414.10" font-size="8.0" fill="#231f20" stroke="#231f20" stroke-width="0.18" text-anchor="end" textLength="10.90" lengthAdjust="spacingAndGlyphs">0.4</text>
<line x1="53.2" y1="402.85" x2="56.9" y2="402.85" stroke="#1a1a1a" stroke-width="1.3"/>
<text x="50.20" y="405.65" font-size="8.0" fill="#231f20" stroke="#231f20" stroke-width="0.18" text-anchor="end" textLength="10.90" lengthAdjust="spacingAndGlyphs">0.5</text>
<line x1="53.2" y1="394.40" x2="56.9" y2="394.40" stroke="#1a1a1a" stroke-width="1.3"/>
<text x="50.20" y="397.20" font-size="8.0" fill="#231f20" stroke="#231f20" stroke-width="0.18" text-anchor="end" textLength="10.90" lengthAdjust="spacingAndGlyphs">0.6</text>
<line x1="53.2" y1="385.95" x2="56.9" y2="385.95" stroke="#1a1a1a" stroke-width="1.3"/>
<text x="50.20" y="388.75" font-size="8.0" fill="#231f20" stroke="#231f20" stroke-width="0.18" text-anchor="end" textLength="10.90" lengthAdjust="spacingAndGlyphs">0.7</text>
<line x1="53.2" y1="377.50" x2="56.9" y2="377.50" stroke="#1a1a1a" stroke-width="1.3"/>
<text x="50.20" y="380.30" font-size="8.0" fill="#231f20" stroke="#231f20" stroke-width="0.18" text-anchor="end" textLength="10.90" lengthAdjust="spacingAndGlyphs">0.8</text>
<line x1="53.2" y1="369.05" x2="56.9" y2="369.05" stroke="#1a1a1a" stroke-width="1.3"/>
<text x="50.20" y="371.85" font-size="8.0" fill="#231f20" stroke="#231f20" stroke-width="0.18" text-anchor="end" textLength="10.90" lengthAdjust="spacingAndGlyphs">0.9</text>
<line x1="53.2" y1="360.60" x2="56.9" y2="360.60" stroke="#1a1a1a" stroke-width="1.3"/>
<text x="50.20" y="363.40" font-size="8.0" fill="#231f20" stroke="#231f20" stroke-width="0.18" text-anchor="end" textLength="10.90" lengthAdjust="spacingAndGlyphs">1.0</text>
<line x1="65.10" y1="460.6" x2="65.10" y2="463.80" stroke="#1a1a1a" stroke-width="1.3"/>
<text x="65.10" y="474.10" font-size="7.9" fill="#231f20" stroke="#231f20" stroke-width="0.18" text-anchor="middle" textLength="4.40" lengthAdjust="spacingAndGlyphs">0</text>
<line x1="87.93" y1="460.6" x2="87.93" y2="463.80" stroke="#1a1a1a" stroke-width="1.3"/>
<text x="87.93" y="474.10" font-size="7.9" fill="#231f20" stroke="#231f20" stroke-width="0.18" text-anchor="middle" textLength="4.40" lengthAdjust="spacingAndGlyphs">3</text>
<line x1="110.76" y1="460.6" x2="110.76" y2="463.80" stroke="#1a1a1a" stroke-width="1.3"/>
<text x="110.76" y="474.10" font-size="7.9" fill="#231f20" stroke="#231f20" stroke-width="0.18" text-anchor="middle" textLength="4.40" lengthAdjust="spacingAndGlyphs">6</text>
<line x1="133.59" y1="460.6" x2="133.59" y2="463.80" stroke="#1a1a1a" stroke-width="1.3"/>
<text x="133.59" y="474.10" font-size="7.9" fill="#231f20" stroke="#231f20" stroke-width="0.18" text-anchor="middle" textLength="4.40" lengthAdjust="spacingAndGlyphs">9</text>
<line x1="156.42" y1="460.6" x2="156.42" y2="463.80" stroke="#1a1a1a" stroke-width="1.3"/>
<text x="156.42" y="474.10" font-size="7.9" fill="#231f20" stroke="#231f20" stroke-width="0.18" text-anchor="middle" textLength="8.60" lengthAdjust="spacingAndGlyphs">12</text>
<line x1="179.25" y1="460.6" x2="179.25" y2="463.80" stroke="#1a1a1a" stroke-width="1.3"/>
<text x="179.25" y="474.10" font-size="7.9" fill="#231f20" stroke="#231f20" stroke-width="0.18" text-anchor="middle" textLength="8.60" lengthAdjust="spacingAndGlyphs">15</text>
<line x1="202.08" y1="460.6" x2="202.08" y2="463.80" stroke="#1a1a1a" stroke-width="1.3"/>
<text x="202.08" y="474.10" font-size="7.9" fill="#231f20" stroke="#231f20" stroke-width="0.18" text-anchor="middle" textLength="8.60" lengthAdjust="spacingAndGlyphs">18</text>
<line x1="224.91" y1="460.6" x2="224.91" y2="463.80" stroke="#1a1a1a" stroke-width="1.3"/>
<text x="224.91" y="474.10" font-size="7.9" fill="#231f20" stroke="#231f20" stroke-width="0.18" text-anchor="middle" textLength="8.60" lengthAdjust="spacingAndGlyphs">21</text>
<line x1="247.74" y1="460.6" x2="247.74" y2="463.80" stroke="#1a1a1a" stroke-width="1.3"/>
<text x="247.74" y="474.10" font-size="7.9" fill="#231f20" stroke="#231f20" stroke-width="0.18" text-anchor="middle" textLength="8.60" lengthAdjust="spacingAndGlyphs">24</text>
<line x1="270.57" y1="460.6" x2="270.57" y2="463.80" stroke="#1a1a1a" stroke-width="1.3"/>
<text x="270.57" y="474.10" font-size="7.9" fill="#231f20" stroke="#231f20" stroke-width="0.18" text-anchor="middle" textLength="8.60" lengthAdjust="spacingAndGlyphs">27</text>
<line x1="293.40" y1="460.6" x2="293.40" y2="463.80" stroke="#1a1a1a" stroke-width="1.3"/>
<text x="293.40" y="474.10" font-size="7.9" fill="#231f20" stroke="#231f20" stroke-width="0.18" text-anchor="middle" textLength="8.60" lengthAdjust="spacingAndGlyphs">30</text>
<line x1="316.23" y1="460.6" x2="316.23" y2="463.80" stroke="#1a1a1a" stroke-width="1.3"/>
<text x="316.23" y="474.10" font-size="7.9" fill="#231f20" stroke="#231f20" stroke-width="0.18" text-anchor="middle" textLength="8.60" lengthAdjust="spacingAndGlyphs">33</text>
<line x1="339.06" y1="460.6" x2="339.06" y2="463.80" stroke="#1a1a1a" stroke-width="1.3"/>
<text x="339.06" y="474.10" font-size="7.9" fill="#231f20" stroke="#231f20" stroke-width="0.18" text-anchor="middle" textLength="8.60" lengthAdjust="spacingAndGlyphs">36</text>
<line x1="361.89" y1="460.6" x2="361.89" y2="463.80" stroke="#1a1a1a" stroke-width="1.3"/>
<text x="361.89" y="474.10" font-size="7.9" fill="#231f20" stroke="#231f20" stroke-width="0.18" text-anchor="middle" textLength="8.60" lengthAdjust="spacingAndGlyphs">39</text>
<line x1="384.72" y1="460.6" x2="384.72" y2="463.80" stroke="#1a1a1a" stroke-width="1.3"/>
<text x="384.72" y="474.10" font-size="7.9" fill="#231f20" stroke="#231f20" stroke-width="0.18" text-anchor="middle" textLength="8.60" lengthAdjust="spacingAndGlyphs">42</text>
<line x1="407.55" y1="460.6" x2="407.55" y2="463.80" stroke="#1a1a1a" stroke-width="1.3"/>
<text x="407.55" y="474.10" font-size="7.9" fill="#231f20" stroke="#231f20" stroke-width="0.18" text-anchor="middle" textLength="8.60" lengthAdjust="spacingAndGlyphs">45</text>
<line x1="430.38" y1="460.6" x2="430.38" y2="463.80" stroke="#1a1a1a" stroke-width="1.3"/>
<text x="430.38" y="474.10" font-size="7.9" fill="#231f20" stroke="#231f20" stroke-width="0.18" text-anchor="middle" textLength="8.60" lengthAdjust="spacingAndGlyphs">48</text>
<line x1="453.21" y1="460.6" x2="453.21" y2="463.80" stroke="#1a1a1a" stroke-width="1.3"/>
<text x="453.21" y="474.10" font-size="7.9" fill="#231f20" stroke="#231f20" stroke-width="0.18" text-anchor="middle" textLength="8.60" lengthAdjust="spacingAndGlyphs">51</text>
<line x1="476.04" y1="460.6" x2="476.04" y2="463.80" stroke="#1a1a1a" stroke-width="1.3"/>
<text x="476.04" y="474.10" font-size="7.9" fill="#231f20" stroke="#231f20" stroke-width="0.18" text-anchor="middle" textLength="8.60" lengthAdjust="spacingAndGlyphs">54</text>
<text x="59.20" y="448.80" font-size="7.8" fill="#231f20" stroke="#231f20" stroke-width="0.18" textLength="92.00" lengthAdjust="spacingAndGlyphs">Number of Patients at Risk:</text>
<text x="50.20" y="458.80" font-size="7.5" fill="#b3183f" stroke="#b3183f" stroke-width="0.08" text-anchor="end" textLength="5.80" lengthAdjust="spacingAndGlyphs">1:</text>
<text x="65.10" y="458.80" font-size="7.9" fill="#b3183f" stroke="#b3183f" stroke-width="0.08" text-anchor="middle" textLength="12.60" lengthAdjust="spacingAndGlyphs">110</text>
<text x="87.93" y="458.80" font-size="7.9" fill="#b3183f" stroke="#b3183f" stroke-width="0.08" text-anchor="middle" textLength="12.60" lengthAdjust="spacingAndGlyphs">108</text>
<text x="110.76" y="458.80" font-size="7.9" fill="#b3183f" stroke="#b3183f" stroke-width="0.08" text-anchor="middle" textLength="8.40" lengthAdjust="spacingAndGlyphs">98</text>
<text x="133.59" y="458.80" font-size="7.9" fill="#b3183f" stroke="#b3183f" stroke-width="0.08" text-anchor="middle" textLength="8.40" lengthAdjust="spacingAndGlyphs">89</text>
<text x="156.42" y="458.80" font-size="7.9" fill="#b3183f" stroke="#b3183f" stroke-width="0.08" text-anchor="middle" textLength="8.40" lengthAdjust="spacingAndGlyphs">86</text>
<text x="179.25" y="458.80" font-size="7.9" fill="#b3183f" stroke="#b3183f" stroke-width="0.08" text-anchor="middle" textLength="8.40" lengthAdjust="spacingAndGlyphs">80</text>
<text x="202.08" y="458.80" font-size="7.9" fill="#b3183f" stroke="#b3183f" stroke-width="0.08" text-anchor="middle" textLength="8.40" lengthAdjust="spacingAndGlyphs">62</text>
<text x="224.91" y="458.80" font-size="7.9" fill="#b3183f" stroke="#b3183f" stroke-width="0.08" text-anchor="middle" textLength="8.40" lengthAdjust="spacingAndGlyphs">47</text>
<text x="247.74" y="458.80" font-size="7.9" fill="#b3183f" stroke="#b3183f" stroke-width="0.08" text-anchor="middle" textLength="8.40" lengthAdjust="spacingAndGlyphs">44</text>
<text x="270.57" y="458.80" font-size="7.9" fill="#b3183f" stroke="#b3183f" stroke-width="0.08" text-anchor="middle" textLength="8.40" lengthAdjust="spacingAndGlyphs">37</text>
<text x="293.40" y="458.80" font-size="7.9" fill="#b3183f" stroke="#b3183f" stroke-width="0.08" text-anchor="middle" textLength="8.40" lengthAdjust="spacingAndGlyphs">31</text>
<text x="316.23" y="458.80" font-size="7.9" fill="#b3183f" stroke="#b3183f" stroke-width="0.08" text-anchor="middle" textLength="8.40" lengthAdjust="spacingAndGlyphs">24</text>
<text x="339.06" y="458.80" font-size="7.9" fill="#b3183f" stroke="#b3183f" stroke-width="0.08" text-anchor="middle" textLength="8.40" lengthAdjust="spacingAndGlyphs">16</text>
<text x="361.89" y="458.80" font-size="7.9" fill="#b3183f" stroke="#b3183f" stroke-width="0.08" text-anchor="middle" textLength="8.40" lengthAdjust="spacingAndGlyphs">10</text>
<text x="384.72" y="458.80" font-size="7.9" fill="#b3183f" stroke="#b3183f" stroke-width="0.08" text-anchor="middle" textLength="4.20" lengthAdjust="spacingAndGlyphs">7</text>
<text x="407.55" y="458.80" font-size="7.9" fill="#b3183f" stroke="#b3183f" stroke-width="0.08" text-anchor="middle" textLength="4.20" lengthAdjust="spacingAndGlyphs">4</text>
<text x="430.38" y="458.80" font-size="7.9" fill="#b3183f" stroke="#b3183f" stroke-width="0.08" text-anchor="middle" textLength="4.20" lengthAdjust="spacingAndGlyphs">4</text>
<text x="453.21" y="458.80" font-size="7.9" fill="#b3183f" stroke="#b3183f" stroke-width="0.08" text-anchor="middle" textLength="4.20" lengthAdjust="spacingAndGlyphs">1</text>
<text x="476.04" y="458.80" font-size="7.9" fill="#b3183f" stroke="#b3183f" stroke-width="0.08" text-anchor="middle" textLength="4.20" lengthAdjust="spacingAndGlyphs">0</text>
<text transform="translate(21.10,402.60) rotate(-90)" x="0" y="0" font-size="9.6" fill="#231f20" stroke="#231f20" stroke-width="0.18" text-anchor="middle" textLength="25.2" lengthAdjust="spacingAndGlyphs">Overall</text>
<text transform="translate(33.80,402.60) rotate(-90)" x="0" y="0" font-size="9.6" fill="#231f20" stroke="#231f20" stroke-width="0.18" text-anchor="middle" textLength="66.8" lengthAdjust="spacingAndGlyphs">survival probability</text>
<text x="247.70" y="488.00" font-size="10.6" fill="#231f20" stroke="#231f20" stroke-width="0.18" textLength="45.40" lengthAdjust="spacingAndGlyphs">Study month</text>
<line x1="309" y1="359.6" x2="330.8" y2="359.6" stroke="#9c0626" stroke-width="1.6"/>
<text x="334.00" y="361.30" font-size="6.8" fill="#231f20" stroke="#231f20" stroke-width="0.18" textLength="154.80" lengthAdjust="spacingAndGlyphs">Key secondary endpoint full analysis set (N = 110)</text>
<text x="334.00" y="371.60" font-size="6.8" fill="#231f20" stroke="#231f20" stroke-width="0.18" textLength="99.00" lengthAdjust="spacingAndGlyphs">Median (95% CI) 36.5 (19.8&#8211;NR)</text>
<path d="M65.10 360.60H76.80V361.30H85.50V362.30H91.00V363.10H94.00V364.00H96.50V365.00H98.50V366.50H101.00V367.50H106.00V368.80H110.00V369.40H112.00V370.40H118.00V370.80H120.60V372.00H123.50V374.20H126.00V376.50H145.00V377.50H154.00V378.30H156.90V380.60H164.60V381.50H166.50V382.90H174.20V383.50H185.00V386.40H195.50V387.00H197.00V387.50H204.00V388.30H207.00V389.50H209.80V392.10H212.70V393.50H216.50V394.20H220.00V395.00H241.50V396.50H249.20V398.10H334.00V399.60H342.50V403.10H372.30V407.50H472.60" fill="none" stroke="#9c0626" stroke-width="1.75"/>
<line x1="195.50" y1="381.50" x2="195.50" y2="388.00" stroke="#222" stroke-width="0.85"/>
<line x1="196.50" y1="381.50" x2="196.50" y2="388.00" stroke="#222" stroke-width="0.85"/>
<line x1="198.50" y1="382.00" x2="198.50" y2="388.50" stroke="#222" stroke-width="0.85"/>
<line x1="199.50" y1="382.00" x2="199.50" y2="388.50" stroke="#222" stroke-width="0.85"/>
<line x1="201.50" y1="382.00" x2="201.50" y2="388.50" stroke="#222" stroke-width="0.85"/>
<line x1="202.50" y1="382.00" x2="202.50" y2="388.50" stroke="#222" stroke-width="0.85"/>
<line x1="203.50" y1="382.00" x2="203.50" y2="388.50" stroke="#222" stroke-width="0.85"/>
<line x1="204.50" y1="382.80" x2="204.50" y2="389.30" stroke="#222" stroke-width="0.85"/>
<line x1="205.50" y1="382.80" x2="205.50" y2="389.30" stroke="#222" stroke-width="0.85"/>
<line x1="208.50" y1="384.00" x2="208.50" y2="390.50" stroke="#222" stroke-width="0.85"/>
<line x1="245.50" y1="391.00" x2="245.50" y2="397.50" stroke="#222" stroke-width="0.85"/>
<line x1="249.50" y1="392.60" x2="249.50" y2="399.10" stroke="#222" stroke-width="0.85"/>
<line x1="250.50" y1="392.60" x2="250.50" y2="399.10" stroke="#222" stroke-width="0.85"/>
<line x1="254.50" y1="392.60" x2="254.50" y2="399.10" stroke="#222" stroke-width="0.85"/>
<line x1="255.50" y1="392.60" x2="255.50" y2="399.10" stroke="#222" stroke-width="0.85"/>
<line x1="256.50" y1="392.60" x2="256.50" y2="399.10" stroke="#222" stroke-width="0.85"/>
<line x1="258.50" y1="392.60" x2="258.50" y2="399.10" stroke="#222" stroke-width="0.85"/>
<line x1="281.50" y1="392.60" x2="281.50" y2="399.10" stroke="#222" stroke-width="0.85"/>
<line x1="288.50" y1="392.60" x2="288.50" y2="399.10" stroke="#222" stroke-width="0.85"/>
<line x1="289.50" y1="392.60" x2="289.50" y2="399.10" stroke="#222" stroke-width="0.85"/>
<line x1="290.50" y1="392.60" x2="290.50" y2="399.10" stroke="#222" stroke-width="0.85"/>
<line x1="292.50" y1="392.60" x2="292.50" y2="399.10" stroke="#222" stroke-width="0.85"/>
<line x1="293.50" y1="392.60" x2="293.50" y2="399.10" stroke="#222" stroke-width="0.85"/>
<line x1="295.50" y1="392.60" x2="295.50" y2="399.10" stroke="#222" stroke-width="0.85"/>
<line x1="296.50" y1="392.60" x2="296.50" y2="399.10" stroke="#222" stroke-width="0.85"/>
<line x1="298.50" y1="392.60" x2="298.50" y2="399.10" stroke="#222" stroke-width="0.85"/>
<line x1="335.50" y1="394.10" x2="335.50" y2="400.60" stroke="#222" stroke-width="0.85"/>
<line x1="336.50" y1="394.10" x2="336.50" y2="400.60" stroke="#222" stroke-width="0.85"/>
<line x1="337.50" y1="394.10" x2="337.50" y2="400.60" stroke="#222" stroke-width="0.85"/>
<line x1="338.50" y1="394.10" x2="338.50" y2="400.60" stroke="#222" stroke-width="0.85"/>
<line x1="340.50" y1="394.10" x2="340.50" y2="400.60" stroke="#222" stroke-width="0.85"/>
<line x1="348.50" y1="397.60" x2="348.50" y2="404.10" stroke="#222" stroke-width="0.85"/>
<line x1="360.50" y1="397.60" x2="360.50" y2="404.10" stroke="#222" stroke-width="0.85"/>
<line x1="381.50" y1="402.00" x2="381.50" y2="408.50" stroke="#222" stroke-width="0.85"/>
<line x1="383.50" y1="402.00" x2="383.50" y2="408.50" stroke="#222" stroke-width="0.85"/>
<line x1="387.50" y1="402.00" x2="387.50" y2="408.50" stroke="#222" stroke-width="0.85"/>
<line x1="432.50" y1="402.00" x2="432.50" y2="408.50" stroke="#222" stroke-width="0.85"/>
<line x1="443.50" y1="402.00" x2="443.50" y2="408.50" stroke="#222" stroke-width="0.85"/>
<line x1="472.50" y1="402.00" x2="472.50" y2="408.50" stroke="#222" stroke-width="0.85"/>
<text x="12.80" y="506.30" font-size="13" fill="#000" stroke="#000" stroke-width="0.18" font-weight="bold">D</text>
<text x="45.00" y="512.90" font-size="8.1" fill="#231f20" stroke="#231f20" stroke-width="0.18" textLength="465.70" lengthAdjust="spacingAndGlyphs">Overall survival by MRD response during cycle 1, without censoring at allogeneic HSCT and post-blinatumomab chemotherapy</text>
<path d="M56.9 517.1 V624.1 H484.5" fill="none" stroke="#1a1a1a" stroke-width="1.5"/>
<line x1="53.2" y1="603.60" x2="56.9" y2="603.60" stroke="#1a1a1a" stroke-width="1.3"/>
<text x="50.20" y="606.40" font-size="8.0" fill="#231f20" stroke="#231f20" stroke-width="0.18" text-anchor="end" textLength="10.90" lengthAdjust="spacingAndGlyphs">0.0</text>
<line x1="53.2" y1="595.58" x2="56.9" y2="595.58" stroke="#1a1a1a" stroke-width="1.3"/>
<text x="50.20" y="598.38" font-size="8.0" fill="#231f20" stroke="#231f20" stroke-width="0.18" text-anchor="end" textLength="10.90" lengthAdjust="spacingAndGlyphs">0.1</text>
<line x1="53.2" y1="587.56" x2="56.9" y2="587.56" stroke="#1a1a1a" stroke-width="1.3"/>
<text x="50.20" y="590.36" font-size="8.0" fill="#231f20" stroke="#231f20" stroke-width="0.18" text-anchor="end" textLength="10.90" lengthAdjust="spacingAndGlyphs">0.2</text>
<line x1="53.2" y1="579.54" x2="56.9" y2="579.54" stroke="#1a1a1a" stroke-width="1.3"/>
<text x="50.20" y="582.34" font-size="8.0" fill="#231f20" stroke="#231f20" stroke-width="0.18" text-anchor="end" textLength="10.90" lengthAdjust="spacingAndGlyphs">0.3</text>
<line x1="53.2" y1="571.52" x2="56.9" y2="571.52" stroke="#1a1a1a" stroke-width="1.3"/>
<text x="50.20" y="574.32" font-size="8.0" fill="#231f20" stroke="#231f20" stroke-width="0.18" text-anchor="end" textLength="10.90" lengthAdjust="spacingAndGlyphs">0.4</text>
<line x1="53.2" y1="563.50" x2="56.9" y2="563.50" stroke="#1a1a1a" stroke-width="1.3"/>
<text x="50.20" y="566.30" font-size="8.0" fill="#231f20" stroke="#231f20" stroke-width="0.18" text-anchor="end" textLength="10.90" lengthAdjust="spacingAndGlyphs">0.5</text>
<line x1="53.2" y1="555.48" x2="56.9" y2="555.48" stroke="#1a1a1a" stroke-width="1.3"/>
<text x="50.20" y="558.28" font-size="8.0" fill="#231f20" stroke="#231f20" stroke-width="0.18" text-anchor="end" textLength="10.90" lengthAdjust="spacingAndGlyphs">0.6</text>
<line x1="53.2" y1="547.46" x2="56.9" y2="547.46" stroke="#1a1a1a" stroke-width="1.3"/>
<text x="50.20" y="550.26" font-size="8.0" fill="#231f20" stroke="#231f20" stroke-width="0.18" text-anchor="end" textLength="10.90" lengthAdjust="spacingAndGlyphs">0.7</text>
<line x1="53.2" y1="539.44" x2="56.9" y2="539.44" stroke="#1a1a1a" stroke-width="1.3"/>
<text x="50.20" y="542.24" font-size="8.0" fill="#231f20" stroke="#231f20" stroke-width="0.18" text-anchor="end" textLength="10.90" lengthAdjust="spacingAndGlyphs">0.8</text>
<line x1="53.2" y1="531.42" x2="56.9" y2="531.42" stroke="#1a1a1a" stroke-width="1.3"/>
<text x="50.20" y="534.22" font-size="8.0" fill="#231f20" stroke="#231f20" stroke-width="0.18" text-anchor="end" textLength="10.90" lengthAdjust="spacingAndGlyphs">0.9</text>
<line x1="53.2" y1="523.40" x2="56.9" y2="523.40" stroke="#1a1a1a" stroke-width="1.3"/>
<text x="50.20" y="526.20" font-size="8.0" fill="#231f20" stroke="#231f20" stroke-width="0.18" text-anchor="end" textLength="10.90" lengthAdjust="spacingAndGlyphs">1.0</text>
<line x1="62.30" y1="624.1" x2="62.30" y2="627.30" stroke="#1a1a1a" stroke-width="1.3"/>
<text x="62.30" y="637.20" font-size="7.9" fill="#231f20" stroke="#231f20" stroke-width="0.18" text-anchor="middle" textLength="4.40" lengthAdjust="spacingAndGlyphs">0</text>
<line x1="85.50" y1="624.1" x2="85.50" y2="627.30" stroke="#1a1a1a" stroke-width="1.3"/>
<text x="85.50" y="637.20" font-size="7.9" fill="#231f20" stroke="#231f20" stroke-width="0.18" text-anchor="middle" textLength="4.40" lengthAdjust="spacingAndGlyphs">3</text>
<line x1="108.70" y1="624.1" x2="108.70" y2="627.30" stroke="#1a1a1a" stroke-width="1.3"/>
<text x="108.70" y="637.20" font-size="7.9" fill="#231f20" stroke="#231f20" stroke-width="0.18" text-anchor="middle" textLength="4.40" lengthAdjust="spacingAndGlyphs">6</text>
<line x1="131.90" y1="624.1" x2="131.90" y2="627.30" stroke="#1a1a1a" stroke-width="1.3"/>
<text x="131.90" y="637.20" font-size="7.9" fill="#231f20" stroke="#231f20" stroke-width="0.18" text-anchor="middle" textLength="4.40" lengthAdjust="spacingAndGlyphs">9</text>
<line x1="155.10" y1="624.1" x2="155.10" y2="627.30" stroke="#1a1a1a" stroke-width="1.3"/>
<text x="155.10" y="637.20" font-size="7.9" fill="#231f20" stroke="#231f20" stroke-width="0.18" text-anchor="middle" textLength="8.60" lengthAdjust="spacingAndGlyphs">12</text>
<line x1="178.30" y1="624.1" x2="178.30" y2="627.30" stroke="#1a1a1a" stroke-width="1.3"/>
<text x="178.30" y="637.20" font-size="7.9" fill="#231f20" stroke="#231f20" stroke-width="0.18" text-anchor="middle" textLength="8.60" lengthAdjust="spacingAndGlyphs">15</text>
<line x1="201.50" y1="624.1" x2="201.50" y2="627.30" stroke="#1a1a1a" stroke-width="1.3"/>
<text x="201.50" y="637.20" font-size="7.9" fill="#231f20" stroke="#231f20" stroke-width="0.18" text-anchor="middle" textLength="8.60" lengthAdjust="spacingAndGlyphs">18</text>
<line x1="224.70" y1="624.1" x2="224.70" y2="627.30" stroke="#1a1a1a" stroke-width="1.3"/>
<text x="224.70" y="637.20" font-size="7.9" fill="#231f20" stroke="#231f20" stroke-width="0.18" text-anchor="middle" textLength="8.60" lengthAdjust="spacingAndGlyphs">21</text>
<line x1="247.90" y1="624.1" x2="247.90" y2="627.30" stroke="#1a1a1a" stroke-width="1.3"/>
<text x="247.90" y="637.20" font-size="7.9" fill="#231f20" stroke="#231f20" stroke-width="0.18" text-anchor="middle" textLength="8.60" lengthAdjust="spacingAndGlyphs">24</text>
<line x1="271.10" y1="624.1" x2="271.10" y2="627.30" stroke="#1a1a1a" stroke-width="1.3"/>
<text x="271.10" y="637.20" font-size="7.9" fill="#231f20" stroke="#231f20" stroke-width="0.18" text-anchor="middle" textLength="8.60" lengthAdjust="spacingAndGlyphs">27</text>
<line x1="294.30" y1="624.1" x2="294.30" y2="627.30" stroke="#1a1a1a" stroke-width="1.3"/>
<text x="294.30" y="637.20" font-size="7.9" fill="#231f20" stroke="#231f20" stroke-width="0.18" text-anchor="middle" textLength="8.60" lengthAdjust="spacingAndGlyphs">30</text>
<line x1="317.50" y1="624.1" x2="317.50" y2="627.30" stroke="#1a1a1a" stroke-width="1.3"/>
<text x="317.50" y="637.20" font-size="7.9" fill="#231f20" stroke="#231f20" stroke-width="0.18" text-anchor="middle" textLength="8.60" lengthAdjust="spacingAndGlyphs">33</text>
<line x1="340.70" y1="624.1" x2="340.70" y2="627.30" stroke="#1a1a1a" stroke-width="1.3"/>
<text x="340.70" y="637.20" font-size="7.9" fill="#231f20" stroke="#231f20" stroke-width="0.18" text-anchor="middle" textLength="8.60" lengthAdjust="spacingAndGlyphs">36</text>
<line x1="363.90" y1="624.1" x2="363.90" y2="627.30" stroke="#1a1a1a" stroke-width="1.3"/>
<text x="363.90" y="637.20" font-size="7.9" fill="#231f20" stroke="#231f20" stroke-width="0.18" text-anchor="middle" textLength="8.60" lengthAdjust="spacingAndGlyphs">39</text>
<line x1="387.10" y1="624.1" x2="387.10" y2="627.30" stroke="#1a1a1a" stroke-width="1.3"/>
<text x="387.10" y="637.20" font-size="7.9" fill="#231f20" stroke="#231f20" stroke-width="0.18" text-anchor="middle" textLength="8.60" lengthAdjust="spacingAndGlyphs">42</text>
<line x1="410.30" y1="624.1" x2="410.30" y2="627.30" stroke="#1a1a1a" stroke-width="1.3"/>
<text x="410.30" y="637.20" font-size="7.9" fill="#231f20" stroke="#231f20" stroke-width="0.18" text-anchor="middle" textLength="8.60" lengthAdjust="spacingAndGlyphs">45</text>
<line x1="433.50" y1="624.1" x2="433.50" y2="627.30" stroke="#1a1a1a" stroke-width="1.3"/>
<text x="433.50" y="637.20" font-size="7.9" fill="#231f20" stroke="#231f20" stroke-width="0.18" text-anchor="middle" textLength="8.60" lengthAdjust="spacingAndGlyphs">48</text>
<line x1="456.70" y1="624.1" x2="456.70" y2="627.30" stroke="#1a1a1a" stroke-width="1.3"/>
<text x="456.70" y="637.20" font-size="7.9" fill="#231f20" stroke="#231f20" stroke-width="0.18" text-anchor="middle" textLength="8.60" lengthAdjust="spacingAndGlyphs">51</text>
<line x1="479.90" y1="624.1" x2="479.90" y2="627.30" stroke="#1a1a1a" stroke-width="1.3"/>
<text x="479.90" y="637.20" font-size="7.9" fill="#231f20" stroke="#231f20" stroke-width="0.18" text-anchor="middle" textLength="8.60" lengthAdjust="spacingAndGlyphs">54</text>
<text x="58.90" y="606.20" font-size="7.8" fill="#231f20" stroke="#231f20" stroke-width="0.18" textLength="92.00" lengthAdjust="spacingAndGlyphs">Number of Patients at Risk:</text>
<text x="50.20" y="615.40" font-size="7.5" fill="#b3183f" stroke="#b3183f" stroke-width="0.08" text-anchor="end" textLength="5.80" lengthAdjust="spacingAndGlyphs">1:</text>
<text x="62.30" y="615.40" font-size="7.9" fill="#b3183f" stroke="#b3183f" stroke-width="0.08" text-anchor="middle" textLength="8.40" lengthAdjust="spacingAndGlyphs">85</text>
<text x="85.50" y="615.40" font-size="7.9" fill="#b3183f" stroke="#b3183f" stroke-width="0.08" text-anchor="middle" textLength="8.40" lengthAdjust="spacingAndGlyphs">82</text>
<text x="108.70" y="615.40" font-size="7.9" fill="#b3183f" stroke="#b3183f" stroke-width="0.08" text-anchor="middle" textLength="8.40" lengthAdjust="spacingAndGlyphs">78</text>
<text x="131.90" y="615.40" font-size="7.9" fill="#b3183f" stroke="#b3183f" stroke-width="0.08" text-anchor="middle" textLength="8.40" lengthAdjust="spacingAndGlyphs">74</text>
<text x="155.10" y="615.40" font-size="7.9" fill="#b3183f" stroke="#b3183f" stroke-width="0.08" text-anchor="middle" textLength="8.40" lengthAdjust="spacingAndGlyphs">69</text>
<text x="178.30" y="615.40" font-size="7.9" fill="#b3183f" stroke="#b3183f" stroke-width="0.08" text-anchor="middle" textLength="8.40" lengthAdjust="spacingAndGlyphs">66</text>
<text x="201.50" y="615.40" font-size="7.9" fill="#b3183f" stroke="#b3183f" stroke-width="0.08" text-anchor="middle" textLength="8.40" lengthAdjust="spacingAndGlyphs">43</text>
<text x="224.70" y="615.40" font-size="7.9" fill="#b3183f" stroke="#b3183f" stroke-width="0.08" text-anchor="middle" textLength="8.40" lengthAdjust="spacingAndGlyphs">41</text>
<text x="247.90" y="615.40" font-size="7.9" fill="#b3183f" stroke="#b3183f" stroke-width="0.08" text-anchor="middle" textLength="8.40" lengthAdjust="spacingAndGlyphs">31</text>
<text x="271.10" y="615.40" font-size="7.9" fill="#b3183f" stroke="#b3183f" stroke-width="0.08" text-anchor="middle" textLength="8.40" lengthAdjust="spacingAndGlyphs">30</text>
<text x="294.30" y="615.40" font-size="7.9" fill="#b3183f" stroke="#b3183f" stroke-width="0.08" text-anchor="middle" textLength="8.40" lengthAdjust="spacingAndGlyphs">20</text>
<text x="317.50" y="615.40" font-size="7.9" fill="#b3183f" stroke="#b3183f" stroke-width="0.08" text-anchor="middle" textLength="8.40" lengthAdjust="spacingAndGlyphs">20</text>
<text x="340.70" y="615.40" font-size="7.9" fill="#b3183f" stroke="#b3183f" stroke-width="0.08" text-anchor="middle" textLength="8.40" lengthAdjust="spacingAndGlyphs">10</text>
<text x="363.90" y="615.40" font-size="7.9" fill="#b3183f" stroke="#b3183f" stroke-width="0.08" text-anchor="middle" textLength="4.20" lengthAdjust="spacingAndGlyphs">8</text>
<text x="387.10" y="615.40" font-size="7.9" fill="#b3183f" stroke="#b3183f" stroke-width="0.08" text-anchor="middle" textLength="4.20" lengthAdjust="spacingAndGlyphs">3</text>
<text x="410.30" y="615.40" font-size="7.9" fill="#b3183f" stroke="#b3183f" stroke-width="0.08" text-anchor="middle" textLength="4.20" lengthAdjust="spacingAndGlyphs">3</text>
<text x="433.50" y="615.40" font-size="7.9" fill="#b3183f" stroke="#b3183f" stroke-width="0.08" text-anchor="middle" textLength="4.20" lengthAdjust="spacingAndGlyphs">3</text>
<text x="456.70" y="615.40" font-size="7.9" fill="#b3183f" stroke="#b3183f" stroke-width="0.08" text-anchor="middle" textLength="4.20" lengthAdjust="spacingAndGlyphs">1</text>
<text x="479.90" y="615.40" font-size="7.9" fill="#b3183f" stroke="#b3183f" stroke-width="0.08" text-anchor="middle" textLength="4.20" lengthAdjust="spacingAndGlyphs">0</text>
<text x="50.20" y="623.10" font-size="7.5" fill="#3f5f9e" stroke="#3f5f9e" stroke-width="0.08" text-anchor="end" textLength="5.80" lengthAdjust="spacingAndGlyphs">2:</text>
<text x="62.30" y="623.10" font-size="7.9" fill="#3f5f9e" stroke="#3f5f9e" stroke-width="0.08" text-anchor="middle" textLength="8.40" lengthAdjust="spacingAndGlyphs">22</text>
<text x="85.50" y="623.10" font-size="7.9" fill="#3f5f9e" stroke="#3f5f9e" stroke-width="0.08" text-anchor="middle" textLength="8.40" lengthAdjust="spacingAndGlyphs">17</text>
<text x="108.70" y="623.10" font-size="7.9" fill="#3f5f9e" stroke="#3f5f9e" stroke-width="0.08" text-anchor="middle" textLength="8.40" lengthAdjust="spacingAndGlyphs">14</text>
<text x="131.90" y="623.10" font-size="7.9" fill="#3f5f9e" stroke="#3f5f9e" stroke-width="0.08" text-anchor="middle" textLength="8.40" lengthAdjust="spacingAndGlyphs">12</text>
<text x="155.10" y="623.10" font-size="7.9" fill="#3f5f9e" stroke="#3f5f9e" stroke-width="0.08" text-anchor="middle" textLength="8.40" lengthAdjust="spacingAndGlyphs">11</text>
<text x="178.30" y="623.10" font-size="7.9" fill="#3f5f9e" stroke="#3f5f9e" stroke-width="0.08" text-anchor="middle" textLength="8.40" lengthAdjust="spacingAndGlyphs">10</text>
<text x="201.50" y="623.10" font-size="7.9" fill="#3f5f9e" stroke="#3f5f9e" stroke-width="0.08" text-anchor="middle" textLength="4.20" lengthAdjust="spacingAndGlyphs">6</text>
<text x="224.70" y="623.10" font-size="7.9" fill="#3f5f9e" stroke="#3f5f9e" stroke-width="0.08" text-anchor="middle" textLength="4.20" lengthAdjust="spacingAndGlyphs">6</text>
<text x="247.90" y="623.10" font-size="7.9" fill="#3f5f9e" stroke="#3f5f9e" stroke-width="0.08" text-anchor="middle" textLength="4.20" lengthAdjust="spacingAndGlyphs">6</text>
<text x="271.10" y="623.10" font-size="7.9" fill="#3f5f9e" stroke="#3f5f9e" stroke-width="0.08" text-anchor="middle" textLength="4.20" lengthAdjust="spacingAndGlyphs">6</text>
<text x="294.30" y="623.10" font-size="7.9" fill="#3f5f9e" stroke="#3f5f9e" stroke-width="0.08" text-anchor="middle" textLength="4.20" lengthAdjust="spacingAndGlyphs">4</text>
<text x="317.50" y="623.10" font-size="7.9" fill="#3f5f9e" stroke="#3f5f9e" stroke-width="0.08" text-anchor="middle" textLength="4.20" lengthAdjust="spacingAndGlyphs">4</text>
<text x="340.70" y="623.10" font-size="7.9" fill="#3f5f9e" stroke="#3f5f9e" stroke-width="0.08" text-anchor="middle" textLength="4.20" lengthAdjust="spacingAndGlyphs">1</text>
<text x="363.90" y="623.10" font-size="7.9" fill="#3f5f9e" stroke="#3f5f9e" stroke-width="0.08" text-anchor="middle" textLength="4.20" lengthAdjust="spacingAndGlyphs">1</text>
<text x="387.10" y="623.10" font-size="7.9" fill="#3f5f9e" stroke="#3f5f9e" stroke-width="0.08" text-anchor="middle" textLength="4.20" lengthAdjust="spacingAndGlyphs">1</text>
<text x="410.30" y="623.10" font-size="7.9" fill="#3f5f9e" stroke="#3f5f9e" stroke-width="0.08" text-anchor="middle" textLength="4.20" lengthAdjust="spacingAndGlyphs">1</text>
<text x="433.50" y="623.10" font-size="7.9" fill="#3f5f9e" stroke="#3f5f9e" stroke-width="0.08" text-anchor="middle" textLength="4.20" lengthAdjust="spacingAndGlyphs">0</text>
<text x="456.70" y="623.10" font-size="7.9" fill="#3f5f9e" stroke="#3f5f9e" stroke-width="0.08" text-anchor="middle" textLength="4.20" lengthAdjust="spacingAndGlyphs">0</text>
<text x="479.90" y="623.10" font-size="7.9" fill="#3f5f9e" stroke="#3f5f9e" stroke-width="0.08" text-anchor="middle" textLength="4.20" lengthAdjust="spacingAndGlyphs">0</text>
<text transform="translate(21.10,562.10) rotate(-90)" x="0" y="0" font-size="9.6" fill="#231f20" stroke="#231f20" stroke-width="0.18" text-anchor="middle" textLength="25.2" lengthAdjust="spacingAndGlyphs">Overall</text>
<text transform="translate(33.80,562.10) rotate(-90)" x="0" y="0" font-size="9.6" fill="#231f20" stroke="#231f20" stroke-width="0.18" text-anchor="middle" textLength="66.8" lengthAdjust="spacingAndGlyphs">survival probability</text>
<text x="158.10" y="651.00" font-size="10.6" fill="#231f20" stroke="#231f20" stroke-width="0.18" textLength="210.10" lengthAdjust="spacingAndGlyphs">Study month (landmark analysis beginning at study day 45)</text>
<line x1="215.4" y1="522.7" x2="238.8" y2="522.7" stroke="#9c0626" stroke-width="1.6"/>
<line x1="215.4" y1="530.9" x2="238.8" y2="530.9" stroke="#22417f" stroke-width="1.6" stroke-dasharray="8.6 2.9"/>
<text x="241.70" y="524.60" font-size="6.8" fill="#231f20" stroke="#231f20" stroke-width="0.18" textLength="250.30" lengthAdjust="spacingAndGlyphs">1: MRD complete responder at cycle 1 (N = 85); Median (95% CI) 38.9 (33.7&#8211;NR)</text>
<text x="241.70" y="532.70" font-size="6.8" fill="#231f20" stroke="#231f20" stroke-width="0.18" textLength="227.00" lengthAdjust="spacingAndGlyphs">2: MRD <tspan font-style="italic">nonresponder</tspan> at cycle 1 (N = 22); Median (95% CI) 12.5 (3.2&#8211;NR)</text>
<text x="249.40" y="540.50" font-size="6.8" fill="#231f20" stroke="#231f20" stroke-width="0.18" textLength="119.40" lengthAdjust="spacingAndGlyphs">HR (95% CI) = 2.63 (1.40&#8211;4.96); <tspan font-style="italic">P</tspan> = .002</text>
<path d="M62.30 523.40H71.80V524.30H84.00V525.20H85.00V525.70H92.60V526.50H96.50V527.60H106.00V528.40H107.00V529.20H110.00V530.50H112.80V532.40H132.00V533.80H144.50V536.30H151.00V537.20H153.80V538.00H161.50V538.80H169.00V539.40H174.00V541.00H184.50V541.70H186.50V542.70H193.00V543.50H195.20V544.60H199.00V546.50H202.90V547.70H206.00V548.50H208.70V549.00H210.60V550.00H230.80V551.50H250.00V552.30H323.70V554.60H333.30V558.90H363.20V564.10H464.50" fill="none" stroke="#9c0626" stroke-width="1.75"/>
<line x1="183.50" y1="535.50" x2="183.50" y2="542.00" stroke="#222" stroke-width="0.85"/>
<line x1="185.50" y1="536.20" x2="185.50" y2="542.70" stroke="#222" stroke-width="0.85"/>
<line x1="186.50" y1="537.20" x2="186.50" y2="543.70" stroke="#222" stroke-width="0.85"/>
<line x1="188.50" y1="537.20" x2="188.50" y2="543.70" stroke="#222" stroke-width="0.85"/>
<line x1="189.50" y1="537.20" x2="189.50" y2="543.70" stroke="#222" stroke-width="0.85"/>
<line x1="190.50" y1="537.20" x2="190.50" y2="543.70" stroke="#222" stroke-width="0.85"/>
<line x1="192.50" y1="537.20" x2="192.50" y2="543.70" stroke="#222" stroke-width="0.85"/>
<line x1="195.50" y1="539.10" x2="195.50" y2="545.60" stroke="#222" stroke-width="0.85"/>
<line x1="233.50" y1="546.00" x2="233.50" y2="552.50" stroke="#222" stroke-width="0.85"/>
<line x1="236.50" y1="546.00" x2="236.50" y2="552.50" stroke="#222" stroke-width="0.85"/>
<line x1="238.50" y1="546.00" x2="238.50" y2="552.50" stroke="#222" stroke-width="0.85"/>
<line x1="243.50" y1="546.00" x2="243.50" y2="552.50" stroke="#222" stroke-width="0.85"/>
<line x1="245.50" y1="546.00" x2="245.50" y2="552.50" stroke="#222" stroke-width="0.85"/>
<line x1="270.50" y1="546.80" x2="270.50" y2="553.30" stroke="#222" stroke-width="0.85"/>
<line x1="277.50" y1="546.80" x2="277.50" y2="553.30" stroke="#222" stroke-width="0.85"/>
<line x1="278.50" y1="546.80" x2="278.50" y2="553.30" stroke="#222" stroke-width="0.85"/>
<line x1="282.50" y1="546.80" x2="282.50" y2="553.30" stroke="#222" stroke-width="0.85"/>
<line x1="283.50" y1="546.80" x2="283.50" y2="553.30" stroke="#222" stroke-width="0.85"/>
<line x1="285.50" y1="546.80" x2="285.50" y2="553.30" stroke="#222" stroke-width="0.85"/>
<line x1="286.50" y1="546.80" x2="286.50" y2="553.30" stroke="#222" stroke-width="0.85"/>
<line x1="326.50" y1="549.10" x2="326.50" y2="555.60" stroke="#222" stroke-width="0.85"/>
<line x1="327.50" y1="549.10" x2="327.50" y2="555.60" stroke="#222" stroke-width="0.85"/>
<line x1="329.50" y1="549.10" x2="329.50" y2="555.60" stroke="#222" stroke-width="0.85"/>
<line x1="338.50" y1="553.40" x2="338.50" y2="559.90" stroke="#222" stroke-width="0.85"/>
<line x1="351.50" y1="553.40" x2="351.50" y2="559.90" stroke="#222" stroke-width="0.85"/>
<line x1="373.50" y1="558.60" x2="373.50" y2="565.10" stroke="#222" stroke-width="0.85"/>
<line x1="374.50" y1="558.60" x2="374.50" y2="565.10" stroke="#222" stroke-width="0.85"/>
<line x1="377.50" y1="558.60" x2="377.50" y2="565.10" stroke="#222" stroke-width="0.85"/>
<line x1="434.50" y1="558.60" x2="434.50" y2="565.10" stroke="#222" stroke-width="0.85"/>
<line x1="464.50" y1="558.60" x2="464.50" y2="565.10" stroke="#222" stroke-width="0.85"/>
<path d="M62.30 523.40H62.50V526.70H79.50V530.50H81.00V535.30H82.50V541.00H87.50V545.30H95.00V548.80H97.00V552.50H109.50V559.20H144.00V564.00H172.50V566.80H195.50V568.30H196.30V572.10H198.00V576.50H423.80" fill="none" stroke="#22417f" stroke-width="1.75" stroke-dasharray="8.6 2.9"/>
<line x1="185.50" y1="561.30" x2="185.50" y2="567.80" stroke="#222" stroke-width="0.85"/>
<line x1="188.50" y1="561.30" x2="188.50" y2="567.80" stroke="#222" stroke-width="0.85"/>
<line x1="281.50" y1="571.00" x2="281.50" y2="577.50" stroke="#222" stroke-width="0.85"/>
<line x1="283.50" y1="571.00" x2="283.50" y2="577.50" stroke="#222" stroke-width="0.85"/>
<line x1="324.50" y1="571.00" x2="324.50" y2="577.50" stroke="#222" stroke-width="0.85"/>
<line x1="326.50" y1="571.00" x2="326.50" y2="577.50" stroke="#222" stroke-width="0.85"/>
<line x1="329.50" y1="571.00" x2="329.50" y2="577.50" stroke="#222" stroke-width="0.85"/>
<line x1="423.50" y1="571.00" x2="423.50" y2="577.50" stroke="#222" stroke-width="0.85"/>
<text x="12.80" y="669.60" font-size="13" fill="#000" stroke="#000" stroke-width="0.18" font-weight="bold">E</text>
<text x="45.00" y="676.10" font-size="8.1" fill="#231f20" stroke="#231f20" stroke-width="0.18" textLength="432.80" lengthAdjust="spacingAndGlyphs">Relapse-free survival by remission status at screening and responder status, without censoring at allogeneic HSCT and</text>
<text x="45.00" y="685.60" font-size="8.1" fill="#231f20" stroke="#231f20" stroke-width="0.18" textLength="127.00" lengthAdjust="spacingAndGlyphs">post-blinatumomab chemotherapy</text>
<path d="M56.9 690.2 V797.8 H487" fill="none" stroke="#1a1a1a" stroke-width="1.5"/>
<line x1="53.2" y1="770.80" x2="56.9" y2="770.80" stroke="#1a1a1a" stroke-width="1.3"/>
<text x="50.20" y="773.60" font-size="8.0" fill="#231f20" stroke="#231f20" stroke-width="0.18" text-anchor="end" textLength="10.90" lengthAdjust="spacingAndGlyphs">0.0</text>
<line x1="53.2" y1="763.40" x2="56.9" y2="763.40" stroke="#1a1a1a" stroke-width="1.3"/>
<text x="50.20" y="766.20" font-size="8.0" fill="#231f20" stroke="#231f20" stroke-width="0.18" text-anchor="end" textLength="10.90" lengthAdjust="spacingAndGlyphs">0.1</text>
<line x1="53.2" y1="756.00" x2="56.9" y2="756.00" stroke="#1a1a1a" stroke-width="1.3"/>
<text x="50.20" y="758.80" font-size="8.0" fill="#231f20" stroke="#231f20" stroke-width="0.18" text-anchor="end" textLength="10.90" lengthAdjust="spacingAndGlyphs">0.2</text>
<line x1="53.2" y1="748.60" x2="56.9" y2="748.60" stroke="#1a1a1a" stroke-width="1.3"/>
<text x="50.20" y="751.40" font-size="8.0" fill="#231f20" stroke="#231f20" stroke-width="0.18" text-anchor="end" textLength="10.90" lengthAdjust="spacingAndGlyphs">0.3</text>
<line x1="53.2" y1="741.20" x2="56.9" y2="741.20" stroke="#1a1a1a" stroke-width="1.3"/>
<text x="50.20" y="744.00" font-size="8.0" fill="#231f20" stroke="#231f20" stroke-width="0.18" text-anchor="end" textLength="10.90" lengthAdjust="spacingAndGlyphs">0.4</text>
<line x1="53.2" y1="733.80" x2="56.9" y2="733.80" stroke="#1a1a1a" stroke-width="1.3"/>
<text x="50.20" y="736.60" font-size="8.0" fill="#231f20" stroke="#231f20" stroke-width="0.18" text-anchor="end" textLength="10.90" lengthAdjust="spacingAndGlyphs">0.5</text>
<line x1="53.2" y1="726.40" x2="56.9" y2="726.40" stroke="#1a1a1a" stroke-width="1.3"/>
<text x="50.20" y="729.20" font-size="8.0" fill="#231f20" stroke="#231f20" stroke-width="0.18" text-anchor="end" textLength="10.90" lengthAdjust="spacingAndGlyphs">0.6</text>
<line x1="53.2" y1="719.00" x2="56.9" y2="719.00" stroke="#1a1a1a" stroke-width="1.3"/>
<text x="50.20" y="721.80" font-size="8.0" fill="#231f20" stroke="#231f20" stroke-width="0.18" text-anchor="end" textLength="10.90" lengthAdjust="spacingAndGlyphs">0.7</text>
<line x1="53.2" y1="711.60" x2="56.9" y2="711.60" stroke="#1a1a1a" stroke-width="1.3"/>
<text x="50.20" y="714.40" font-size="8.0" fill="#231f20" stroke="#231f20" stroke-width="0.18" text-anchor="end" textLength="10.90" lengthAdjust="spacingAndGlyphs">0.8</text>
<line x1="53.2" y1="704.20" x2="56.9" y2="704.20" stroke="#1a1a1a" stroke-width="1.3"/>
<text x="50.20" y="707.00" font-size="8.0" fill="#231f20" stroke="#231f20" stroke-width="0.18" text-anchor="end" textLength="10.90" lengthAdjust="spacingAndGlyphs">0.9</text>
<line x1="53.2" y1="696.80" x2="56.9" y2="696.80" stroke="#1a1a1a" stroke-width="1.3"/>
<text x="50.20" y="699.60" font-size="8.0" fill="#231f20" stroke="#231f20" stroke-width="0.18" text-anchor="end" textLength="10.90" lengthAdjust="spacingAndGlyphs">1.0</text>
<line x1="65.70" y1="797.8" x2="65.70" y2="801.00" stroke="#1a1a1a" stroke-width="1.3"/>
<text x="65.70" y="811.10" font-size="7.9" fill="#231f20" stroke="#231f20" stroke-width="0.18" text-anchor="middle" textLength="4.40" lengthAdjust="spacingAndGlyphs">0</text>
<line x1="88.86" y1="797.8" x2="88.86" y2="801.00" stroke="#1a1a1a" stroke-width="1.3"/>
<text x="88.86" y="811.10" font-size="7.9" fill="#231f20" stroke="#231f20" stroke-width="0.18" text-anchor="middle" textLength="4.40" lengthAdjust="spacingAndGlyphs">3</text>
<line x1="112.02" y1="797.8" x2="112.02" y2="801.00" stroke="#1a1a1a" stroke-width="1.3"/>
<text x="112.02" y="811.10" font-size="7.9" fill="#231f20" stroke="#231f20" stroke-width="0.18" text-anchor="middle" textLength="4.40" lengthAdjust="spacingAndGlyphs">6</text>
<line x1="135.18" y1="797.8" x2="135.18" y2="801.00" stroke="#1a1a1a" stroke-width="1.3"/>
<text x="135.18" y="811.10" font-size="7.9" fill="#231f20" stroke="#231f20" stroke-width="0.18" text-anchor="middle" textLength="4.40" lengthAdjust="spacingAndGlyphs">9</text>
<line x1="158.34" y1="797.8" x2="158.34" y2="801.00" stroke="#1a1a1a" stroke-width="1.3"/>
<text x="158.34" y="811.10" font-size="7.9" fill="#231f20" stroke="#231f20" stroke-width="0.18" text-anchor="middle" textLength="8.60" lengthAdjust="spacingAndGlyphs">12</text>
<line x1="181.50" y1="797.8" x2="181.50" y2="801.00" stroke="#1a1a1a" stroke-width="1.3"/>
<text x="181.50" y="811.10" font-size="7.9" fill="#231f20" stroke="#231f20" stroke-width="0.18" text-anchor="middle" textLength="8.60" lengthAdjust="spacingAndGlyphs">15</text>
<line x1="204.66" y1="797.8" x2="204.66" y2="801.00" stroke="#1a1a1a" stroke-width="1.3"/>
<text x="204.66" y="811.10" font-size="7.9" fill="#231f20" stroke="#231f20" stroke-width="0.18" text-anchor="middle" textLength="8.60" lengthAdjust="spacingAndGlyphs">18</text>
<line x1="227.82" y1="797.8" x2="227.82" y2="801.00" stroke="#1a1a1a" stroke-width="1.3"/>
<text x="227.82" y="811.10" font-size="7.9" fill="#231f20" stroke="#231f20" stroke-width="0.18" text-anchor="middle" textLength="8.60" lengthAdjust="spacingAndGlyphs">21</text>
<line x1="250.98" y1="797.8" x2="250.98" y2="801.00" stroke="#1a1a1a" stroke-width="1.3"/>
<text x="250.98" y="811.10" font-size="7.9" fill="#231f20" stroke="#231f20" stroke-width="0.18" text-anchor="middle" textLength="8.60" lengthAdjust="spacingAndGlyphs">24</text>
<line x1="274.14" y1="797.8" x2="274.14" y2="801.00" stroke="#1a1a1a" stroke-width="1.3"/>
<text x="274.14" y="811.10" font-size="7.9" fill="#231f20" stroke="#231f20" stroke-width="0.18" text-anchor="middle" textLength="8.60" lengthAdjust="spacingAndGlyphs">27</text>
<line x1="297.30" y1="797.8" x2="297.30" y2="801.00" stroke="#1a1a1a" stroke-width="1.3"/>
<text x="297.30" y="811.10" font-size="7.9" fill="#231f20" stroke="#231f20" stroke-width="0.18" text-anchor="middle" textLength="8.60" lengthAdjust="spacingAndGlyphs">30</text>
<line x1="320.46" y1="797.8" x2="320.46" y2="801.00" stroke="#1a1a1a" stroke-width="1.3"/>
<text x="320.46" y="811.10" font-size="7.9" fill="#231f20" stroke="#231f20" stroke-width="0.18" text-anchor="middle" textLength="8.60" lengthAdjust="spacingAndGlyphs">33</text>
<line x1="343.62" y1="797.8" x2="343.62" y2="801.00" stroke="#1a1a1a" stroke-width="1.3"/>
<text x="343.62" y="811.10" font-size="7.9" fill="#231f20" stroke="#231f20" stroke-width="0.18" text-anchor="middle" textLength="8.60" lengthAdjust="spacingAndGlyphs">36</text>
<line x1="366.78" y1="797.8" x2="366.78" y2="801.00" stroke="#1a1a1a" stroke-width="1.3"/>
<text x="366.78" y="811.10" font-size="7.9" fill="#231f20" stroke="#231f20" stroke-width="0.18" text-anchor="middle" textLength="8.60" lengthAdjust="spacingAndGlyphs">39</text>
<line x1="389.94" y1="797.8" x2="389.94" y2="801.00" stroke="#1a1a1a" stroke-width="1.3"/>
<text x="389.94" y="811.10" font-size="7.9" fill="#231f20" stroke="#231f20" stroke-width="0.18" text-anchor="middle" textLength="8.60" lengthAdjust="spacingAndGlyphs">42</text>
<line x1="413.10" y1="797.8" x2="413.10" y2="801.00" stroke="#1a1a1a" stroke-width="1.3"/>
<text x="413.10" y="811.10" font-size="7.9" fill="#231f20" stroke="#231f20" stroke-width="0.18" text-anchor="middle" textLength="8.60" lengthAdjust="spacingAndGlyphs">45</text>
<line x1="436.26" y1="797.8" x2="436.26" y2="801.00" stroke="#1a1a1a" stroke-width="1.3"/>
<text x="436.26" y="811.10" font-size="7.9" fill="#231f20" stroke="#231f20" stroke-width="0.18" text-anchor="middle" textLength="8.60" lengthAdjust="spacingAndGlyphs">48</text>
<line x1="459.42" y1="797.8" x2="459.42" y2="801.00" stroke="#1a1a1a" stroke-width="1.3"/>
<text x="459.42" y="811.10" font-size="7.9" fill="#231f20" stroke="#231f20" stroke-width="0.18" text-anchor="middle" textLength="8.60" lengthAdjust="spacingAndGlyphs">51</text>
<line x1="482.58" y1="797.8" x2="482.58" y2="801.00" stroke="#1a1a1a" stroke-width="1.3"/>
<text x="482.58" y="811.10" font-size="7.9" fill="#231f20" stroke="#231f20" stroke-width="0.18" text-anchor="middle" textLength="8.60" lengthAdjust="spacingAndGlyphs">54</text>
<text x="58.90" y="772.30" font-size="7.8" fill="#231f20" stroke="#231f20" stroke-width="0.18" textLength="92.00" lengthAdjust="spacingAndGlyphs">Number of Patients at Risk:</text>
<text x="50.20" y="781.80" font-size="7.5" fill="#b3183f" stroke="#b3183f" stroke-width="0.08" text-anchor="end" textLength="5.80" lengthAdjust="spacingAndGlyphs">1:</text>
<text x="65.70" y="781.80" font-size="7.9" fill="#b3183f" stroke="#b3183f" stroke-width="0.08" text-anchor="middle" textLength="8.40" lengthAdjust="spacingAndGlyphs">60</text>
<text x="88.86" y="781.80" font-size="7.9" fill="#b3183f" stroke="#b3183f" stroke-width="0.08" text-anchor="middle" textLength="8.40" lengthAdjust="spacingAndGlyphs">56</text>
<text x="112.02" y="781.80" font-size="7.9" fill="#b3183f" stroke="#b3183f" stroke-width="0.08" text-anchor="middle" textLength="8.40" lengthAdjust="spacingAndGlyphs">49</text>
<text x="135.18" y="781.80" font-size="7.9" fill="#b3183f" stroke="#b3183f" stroke-width="0.08" text-anchor="middle" textLength="8.40" lengthAdjust="spacingAndGlyphs">47</text>
<text x="158.34" y="781.80" font-size="7.9" fill="#b3183f" stroke="#b3183f" stroke-width="0.08" text-anchor="middle" textLength="8.40" lengthAdjust="spacingAndGlyphs">46</text>
<text x="181.50" y="781.80" font-size="7.9" fill="#b3183f" stroke="#b3183f" stroke-width="0.08" text-anchor="middle" textLength="8.40" lengthAdjust="spacingAndGlyphs">45</text>
<text x="204.66" y="781.80" font-size="7.9" fill="#b3183f" stroke="#b3183f" stroke-width="0.08" text-anchor="middle" textLength="8.40" lengthAdjust="spacingAndGlyphs">28</text>
<text x="227.82" y="781.80" font-size="7.9" fill="#b3183f" stroke="#b3183f" stroke-width="0.08" text-anchor="middle" textLength="8.40" lengthAdjust="spacingAndGlyphs">27</text>
<text x="250.98" y="781.80" font-size="7.9" fill="#b3183f" stroke="#b3183f" stroke-width="0.08" text-anchor="middle" textLength="8.40" lengthAdjust="spacingAndGlyphs">19</text>
<text x="274.14" y="781.80" font-size="7.9" fill="#b3183f" stroke="#b3183f" stroke-width="0.08" text-anchor="middle" textLength="8.40" lengthAdjust="spacingAndGlyphs">18</text>
<text x="297.30" y="781.80" font-size="7.9" fill="#b3183f" stroke="#b3183f" stroke-width="0.08" text-anchor="middle" textLength="8.40" lengthAdjust="spacingAndGlyphs">13</text>
<text x="320.46" y="781.80" font-size="7.9" fill="#b3183f" stroke="#b3183f" stroke-width="0.08" text-anchor="middle" textLength="8.40" lengthAdjust="spacingAndGlyphs">13</text>
<text x="343.62" y="781.80" font-size="7.9" fill="#b3183f" stroke="#b3183f" stroke-width="0.08" text-anchor="middle" textLength="4.20" lengthAdjust="spacingAndGlyphs">6</text>
<text x="366.78" y="781.80" font-size="7.9" fill="#b3183f" stroke="#b3183f" stroke-width="0.08" text-anchor="middle" textLength="4.20" lengthAdjust="spacingAndGlyphs">5</text>
<text x="389.94" y="781.80" font-size="7.9" fill="#b3183f" stroke="#b3183f" stroke-width="0.08" text-anchor="middle" textLength="4.20" lengthAdjust="spacingAndGlyphs">3</text>
<text x="413.10" y="781.80" font-size="7.9" fill="#b3183f" stroke="#b3183f" stroke-width="0.08" text-anchor="middle" textLength="4.20" lengthAdjust="spacingAndGlyphs">3</text>
<text x="436.26" y="781.80" font-size="7.9" fill="#b3183f" stroke="#b3183f" stroke-width="0.08" text-anchor="middle" textLength="4.20" lengthAdjust="spacingAndGlyphs">3</text>
<text x="459.42" y="781.80" font-size="7.9" fill="#b3183f" stroke="#b3183f" stroke-width="0.08" text-anchor="middle" textLength="4.20" lengthAdjust="spacingAndGlyphs">1</text>
<text x="482.58" y="781.80" font-size="7.9" fill="#b3183f" stroke="#b3183f" stroke-width="0.08" text-anchor="middle" textLength="4.20" lengthAdjust="spacingAndGlyphs">0</text>
<text x="50.20" y="789.20" font-size="7.5" fill="#3f5f9e" stroke="#3f5f9e" stroke-width="0.08" text-anchor="end" textLength="5.80" lengthAdjust="spacingAndGlyphs">2:</text>
<text x="65.70" y="789.20" font-size="7.9" fill="#3f5f9e" stroke="#3f5f9e" stroke-width="0.08" text-anchor="middle" textLength="8.40" lengthAdjust="spacingAndGlyphs">25</text>
<text x="88.86" y="789.20" font-size="7.9" fill="#3f5f9e" stroke="#3f5f9e" stroke-width="0.08" text-anchor="middle" textLength="8.40" lengthAdjust="spacingAndGlyphs">21</text>
<text x="112.02" y="789.20" font-size="7.9" fill="#3f5f9e" stroke="#3f5f9e" stroke-width="0.08" text-anchor="middle" textLength="8.40" lengthAdjust="spacingAndGlyphs">19</text>
<text x="135.18" y="789.20" font-size="7.9" fill="#3f5f9e" stroke="#3f5f9e" stroke-width="0.08" text-anchor="middle" textLength="8.40" lengthAdjust="spacingAndGlyphs">16</text>
<text x="158.34" y="789.20" font-size="7.9" fill="#3f5f9e" stroke="#3f5f9e" stroke-width="0.08" text-anchor="middle" textLength="8.40" lengthAdjust="spacingAndGlyphs">14</text>
<text x="181.50" y="789.20" font-size="7.9" fill="#3f5f9e" stroke="#3f5f9e" stroke-width="0.08" text-anchor="middle" textLength="8.40" lengthAdjust="spacingAndGlyphs">12</text>
<text x="204.66" y="789.20" font-size="7.9" fill="#3f5f9e" stroke="#3f5f9e" stroke-width="0.08" text-anchor="middle" textLength="4.20" lengthAdjust="spacingAndGlyphs">6</text>
<text x="227.82" y="789.20" font-size="7.9" fill="#3f5f9e" stroke="#3f5f9e" stroke-width="0.08" text-anchor="middle" textLength="4.20" lengthAdjust="spacingAndGlyphs">6</text>
<text x="250.98" y="789.20" font-size="7.9" fill="#3f5f9e" stroke="#3f5f9e" stroke-width="0.08" text-anchor="middle" textLength="4.20" lengthAdjust="spacingAndGlyphs">5</text>
<text x="274.14" y="789.20" font-size="7.9" fill="#3f5f9e" stroke="#3f5f9e" stroke-width="0.08" text-anchor="middle" textLength="4.20" lengthAdjust="spacingAndGlyphs">5</text>
<text x="297.30" y="789.20" font-size="7.9" fill="#3f5f9e" stroke="#3f5f9e" stroke-width="0.08" text-anchor="middle" textLength="4.20" lengthAdjust="spacingAndGlyphs">2</text>
<text x="320.46" y="789.20" font-size="7.9" fill="#3f5f9e" stroke="#3f5f9e" stroke-width="0.08" text-anchor="middle" textLength="4.20" lengthAdjust="spacingAndGlyphs">2</text>
<text x="343.62" y="789.20" font-size="7.9" fill="#3f5f9e" stroke="#3f5f9e" stroke-width="0.08" text-anchor="middle" textLength="4.20" lengthAdjust="spacingAndGlyphs">2</text>
<text x="366.78" y="789.20" font-size="7.9" fill="#3f5f9e" stroke="#3f5f9e" stroke-width="0.08" text-anchor="middle" textLength="4.20" lengthAdjust="spacingAndGlyphs">2</text>
<text x="389.94" y="789.20" font-size="7.9" fill="#3f5f9e" stroke="#3f5f9e" stroke-width="0.08" text-anchor="middle" textLength="4.20" lengthAdjust="spacingAndGlyphs">0</text>
<text x="413.10" y="789.20" font-size="7.9" fill="#3f5f9e" stroke="#3f5f9e" stroke-width="0.08" text-anchor="middle" textLength="4.20" lengthAdjust="spacingAndGlyphs">0</text>
<text x="436.26" y="789.20" font-size="7.9" fill="#3f5f9e" stroke="#3f5f9e" stroke-width="0.08" text-anchor="middle" textLength="4.20" lengthAdjust="spacingAndGlyphs">0</text>
<text x="459.42" y="789.20" font-size="7.9" fill="#3f5f9e" stroke="#3f5f9e" stroke-width="0.08" text-anchor="middle" textLength="4.20" lengthAdjust="spacingAndGlyphs">0</text>
<text x="482.58" y="789.20" font-size="7.9" fill="#3f5f9e" stroke="#3f5f9e" stroke-width="0.08" text-anchor="middle" textLength="4.20" lengthAdjust="spacingAndGlyphs">0</text>
<text x="50.20" y="796.40" font-size="7.5" fill="#76b43f" stroke="#76b43f" stroke-width="0.08" text-anchor="end" textLength="5.80" lengthAdjust="spacingAndGlyphs">3:</text>
<text x="65.70" y="796.40" font-size="7.9" fill="#76b43f" stroke="#76b43f" stroke-width="0.08" text-anchor="middle" textLength="8.40" lengthAdjust="spacingAndGlyphs">15</text>
<text x="88.86" y="796.40" font-size="7.9" fill="#76b43f" stroke="#76b43f" stroke-width="0.08" text-anchor="middle" textLength="8.40" lengthAdjust="spacingAndGlyphs">11</text>
<text x="112.02" y="796.40" font-size="7.9" fill="#76b43f" stroke="#76b43f" stroke-width="0.08" text-anchor="middle" textLength="4.20" lengthAdjust="spacingAndGlyphs">7</text>
<text x="135.18" y="796.40" font-size="7.9" fill="#76b43f" stroke="#76b43f" stroke-width="0.08" text-anchor="middle" textLength="4.20" lengthAdjust="spacingAndGlyphs">7</text>
<text x="158.34" y="796.40" font-size="7.9" fill="#76b43f" stroke="#76b43f" stroke-width="0.08" text-anchor="middle" textLength="4.20" lengthAdjust="spacingAndGlyphs">5</text>
<text x="181.50" y="796.40" font-size="7.9" fill="#76b43f" stroke="#76b43f" stroke-width="0.08" text-anchor="middle" textLength="4.20" lengthAdjust="spacingAndGlyphs">4</text>
<text x="204.66" y="796.40" font-size="7.9" fill="#76b43f" stroke="#76b43f" stroke-width="0.08" text-anchor="middle" textLength="4.20" lengthAdjust="spacingAndGlyphs">3</text>
<text x="227.82" y="796.40" font-size="7.9" fill="#76b43f" stroke="#76b43f" stroke-width="0.08" text-anchor="middle" textLength="4.20" lengthAdjust="spacingAndGlyphs">3</text>
<text x="250.98" y="796.40" font-size="7.9" fill="#76b43f" stroke="#76b43f" stroke-width="0.08" text-anchor="middle" textLength="4.20" lengthAdjust="spacingAndGlyphs">3</text>
<text x="274.14" y="796.40" font-size="7.9" fill="#76b43f" stroke="#76b43f" stroke-width="0.08" text-anchor="middle" textLength="4.20" lengthAdjust="spacingAndGlyphs">3</text>
<text x="297.30" y="796.40" font-size="7.9" fill="#76b43f" stroke="#76b43f" stroke-width="0.08" text-anchor="middle" textLength="4.20" lengthAdjust="spacingAndGlyphs">1</text>
<text x="320.46" y="796.40" font-size="7.9" fill="#76b43f" stroke="#76b43f" stroke-width="0.08" text-anchor="middle" textLength="4.20" lengthAdjust="spacingAndGlyphs">1</text>
<text x="343.62" y="796.40" font-size="7.9" fill="#76b43f" stroke="#76b43f" stroke-width="0.08" text-anchor="middle" textLength="4.20" lengthAdjust="spacingAndGlyphs">0</text>
<text x="366.78" y="796.40" font-size="7.9" fill="#76b43f" stroke="#76b43f" stroke-width="0.08" text-anchor="middle" textLength="4.20" lengthAdjust="spacingAndGlyphs">0</text>
<text x="389.94" y="796.40" font-size="7.9" fill="#76b43f" stroke="#76b43f" stroke-width="0.08" text-anchor="middle" textLength="4.20" lengthAdjust="spacingAndGlyphs">0</text>
<text x="413.10" y="796.40" font-size="7.9" fill="#76b43f" stroke="#76b43f" stroke-width="0.08" text-anchor="middle" textLength="4.20" lengthAdjust="spacingAndGlyphs">0</text>
<text x="436.26" y="796.40" font-size="7.9" fill="#76b43f" stroke="#76b43f" stroke-width="0.08" text-anchor="middle" textLength="4.20" lengthAdjust="spacingAndGlyphs">0</text>
<text x="459.42" y="796.40" font-size="7.9" fill="#76b43f" stroke="#76b43f" stroke-width="0.08" text-anchor="middle" textLength="4.20" lengthAdjust="spacingAndGlyphs">0</text>
<text x="482.58" y="796.40" font-size="7.9" fill="#76b43f" stroke="#76b43f" stroke-width="0.08" text-anchor="middle" textLength="4.20" lengthAdjust="spacingAndGlyphs">0</text>
<text transform="translate(21.10,734.45) rotate(-90)" x="0" y="0" font-size="9.6" fill="#231f20" stroke="#231f20" stroke-width="0.18" text-anchor="middle" textLength="43.6" lengthAdjust="spacingAndGlyphs">Relapse-free</text>
<text transform="translate(33.80,734.45) rotate(-90)" x="0" y="0" font-size="9.6" fill="#231f20" stroke="#231f20" stroke-width="0.18" text-anchor="middle" textLength="66.8" lengthAdjust="spacingAndGlyphs">survival probability</text>
<text x="166.90" y="825.70" font-size="10.6" fill="#231f20" stroke="#231f20" stroke-width="0.18" textLength="209.60" lengthAdjust="spacingAndGlyphs">Study month (landmark analysis beginning at study day 45)</text>
<line x1="197.9" y1="688.7" x2="221.9" y2="688.7" stroke="#9c0626" stroke-width="1.6"/>
<line x1="197.9" y1="696.8" x2="221.9" y2="696.8" stroke="#22417f" stroke-width="1.6" stroke-dasharray="8.6 2.9"/>
<line x1="197.9" y1="705.5" x2="221.9" y2="705.5" stroke="#4f9e1f" stroke-width="1.6" stroke-dasharray="10.5 4.5 2.5 4.5"/>
<text x="225.20" y="690.70" font-size="6.8" fill="#231f20" stroke="#231f20" stroke-width="0.18" textLength="244.40" lengthAdjust="spacingAndGlyphs">1: MRD responder at cycle 1 in 1st CR (N = 60) Median (95% CI) NR&#160; (20.8, NR)</text>
<text x="225.20" y="698.80" font-size="6.8" fill="#231f20" stroke="#231f20" stroke-width="0.18" textLength="266.70" lengthAdjust="spacingAndGlyphs">2: MRD responder at cycle 1 in 2nd or 3rd CR (N = 25) Median (95% CI) 13.9 (7.8, NR)</text>
<text x="225.20" y="707.00" font-size="6.8" fill="#231f20" stroke="#231f20" stroke-width="0.18" textLength="227.10" lengthAdjust="spacingAndGlyphs">3: MRD non-responder at cycle 1 (N = 15) Median (95% CI) 5.7 (1.6, 13.6)</text>
<text x="198.70" y="767.90" font-size="6.8" fill="#231f20" stroke="#231f20" stroke-width="0.18" textLength="314.60" lengthAdjust="spacingAndGlyphs">HR (95% CI) for 2 vs. 1 = 2.02 (1.07&#8211;3.81); HR (95% CI) for 3 vs. 1 = 3.34 (1.66&#8211;6.71); P = .001</text>
<path d="M65.70 696.80H74.00V697.80H83.00V699.00H87.70V700.40H90.00V701.50H92.00V702.10H93.40V702.90H96.00V703.50H99.50V704.10H100.20V707.90H102.00V709.00H105.00V709.80H113.00V710.50H114.80V711.30H124.60V712.70H147.00V714.20H168.50V715.30H188.00V716.30H191.90V716.80H193.50V717.80H200.40V719.60H202.70V721.60H226.20V723.50H240.00V725.80H242.70V728.10H244.20V729.80H325.70V732.70H467.00" fill="none" stroke="#9c0626" stroke-width="1.75"/>
<line x1="186.50" y1="709.80" x2="186.50" y2="716.30" stroke="#222" stroke-width="0.85"/>
<line x1="189.50" y1="710.80" x2="189.50" y2="717.30" stroke="#222" stroke-width="0.85"/>
<line x1="190.50" y1="710.80" x2="190.50" y2="717.30" stroke="#222" stroke-width="0.85"/>
<line x1="191.50" y1="710.80" x2="191.50" y2="717.30" stroke="#222" stroke-width="0.85"/>
<line x1="193.50" y1="712.30" x2="193.50" y2="718.80" stroke="#222" stroke-width="0.85"/>
<line x1="195.50" y1="712.30" x2="195.50" y2="718.80" stroke="#222" stroke-width="0.85"/>
<line x1="197.50" y1="712.30" x2="197.50" y2="718.80" stroke="#222" stroke-width="0.85"/>
<line x1="199.50" y1="712.30" x2="199.50" y2="718.80" stroke="#222" stroke-width="0.85"/>
<line x1="236.50" y1="718.00" x2="236.50" y2="724.50" stroke="#222" stroke-width="0.85"/>
<line x1="238.50" y1="718.00" x2="238.50" y2="724.50" stroke="#222" stroke-width="0.85"/>
<line x1="241.50" y1="720.30" x2="241.50" y2="726.80" stroke="#222" stroke-width="0.85"/>
<line x1="242.50" y1="722.60" x2="242.50" y2="729.10" stroke="#222" stroke-width="0.85"/>
<line x1="273.50" y1="724.30" x2="273.50" y2="730.80" stroke="#222" stroke-width="0.85"/>
<line x1="280.50" y1="724.30" x2="280.50" y2="730.80" stroke="#222" stroke-width="0.85"/>
<line x1="281.50" y1="724.30" x2="281.50" y2="730.80" stroke="#222" stroke-width="0.85"/>
<line x1="285.50" y1="724.30" x2="285.50" y2="730.80" stroke="#222" stroke-width="0.85"/>
<line x1="287.50" y1="724.30" x2="287.50" y2="730.80" stroke="#222" stroke-width="0.85"/>
<line x1="289.50" y1="724.30" x2="289.50" y2="730.80" stroke="#222" stroke-width="0.85"/>
<line x1="328.50" y1="727.20" x2="328.50" y2="733.70" stroke="#222" stroke-width="0.85"/>
<line x1="329.50" y1="727.20" x2="329.50" y2="733.70" stroke="#222" stroke-width="0.85"/>
<line x1="330.50" y1="727.20" x2="330.50" y2="733.70" stroke="#222" stroke-width="0.85"/>
<line x1="340.50" y1="727.20" x2="340.50" y2="733.70" stroke="#222" stroke-width="0.85"/>
<line x1="354.50" y1="727.20" x2="354.50" y2="733.70" stroke="#222" stroke-width="0.85"/>
<line x1="380.50" y1="727.20" x2="380.50" y2="733.70" stroke="#222" stroke-width="0.85"/>
<line x1="437.50" y1="727.20" x2="437.50" y2="733.70" stroke="#222" stroke-width="0.85"/>
<line x1="467.50" y1="727.20" x2="467.50" y2="733.70" stroke="#222" stroke-width="0.85"/>
<path d="M65.70 696.80H65.90V701.50H68.00V702.70H68.70V704.40H71.50V706.70H77.30V711.30H86.00V714.20H88.00V715.50H90.60V717.10H91.10V721.70H93.40V722.90H94.00V729.20H96.90V731.50H109.00V735.60H114.20V736.40H146.50V746.10H170.20V751.20H198.10V755.80H328.10" fill="none" stroke="#4f9e1f" stroke-width="1.75" stroke-dasharray="10.5 4.5 2.5 4.5"/>
<line x1="285.50" y1="750.30" x2="285.50" y2="756.80" stroke="#222" stroke-width="0.85"/>
<line x1="285.50" y1="750.30" x2="285.50" y2="756.80" stroke="#222" stroke-width="0.85"/>
<line x1="328.50" y1="750.30" x2="328.50" y2="756.80" stroke="#222" stroke-width="0.85"/>
<path d="M65.70 696.80H74.40V699.20H75.50V705.30H87.40V708.50H96.00V710.00H98.00V710.80H111.50V712.50H114.20V714.80H115.40V717.30H125.80V720.40H134.20V723.50H138.80V726.50H147.30V727.50H149.60V729.60H164.20V731.90H172.70V735.10H195.80V738.10H198.10V739.60H201.90V744.20H248.10V748.40H379.50" fill="none" stroke="#22417f" stroke-width="1.75" stroke-dasharray="8.6 2.9"/>
<line x1="187.50" y1="729.60" x2="187.50" y2="736.10" stroke="#222" stroke-width="0.85"/>
<line x1="189.50" y1="729.60" x2="189.50" y2="736.10" stroke="#222" stroke-width="0.85"/>
<line x1="191.50" y1="729.60" x2="191.50" y2="736.10" stroke="#222" stroke-width="0.85"/>
<line x1="194.50" y1="729.60" x2="194.50" y2="736.10" stroke="#222" stroke-width="0.85"/>
<line x1="279.50" y1="742.90" x2="279.50" y2="749.40" stroke="#222" stroke-width="0.85"/>
<line x1="280.50" y1="742.90" x2="280.50" y2="749.40" stroke="#222" stroke-width="0.85"/>
<line x1="285.50" y1="742.90" x2="285.50" y2="749.40" stroke="#222" stroke-width="0.85"/>
<line x1="288.50" y1="742.90" x2="288.50" y2="749.40" stroke="#222" stroke-width="0.85"/>
<line x1="374.50" y1="742.90" x2="374.50" y2="749.40" stroke="#222" stroke-width="0.85"/>
<line x1="379.50" y1="742.90" x2="379.50" y2="749.40" stroke="#222" stroke-width="0.85"/>
<text x="434.50" y="18.80" font-size="8.2" fill="#231f20" stroke="#231f20" stroke-width="0.18" textLength="41.80" lengthAdjust="spacingAndGlyphs">+ Censored</text>
<rect x="0.6" y="0.6" width="518.8" height="834.6" fill="none" stroke="#000" stroke-width="1.4"/>
</svg>
</body></html>
